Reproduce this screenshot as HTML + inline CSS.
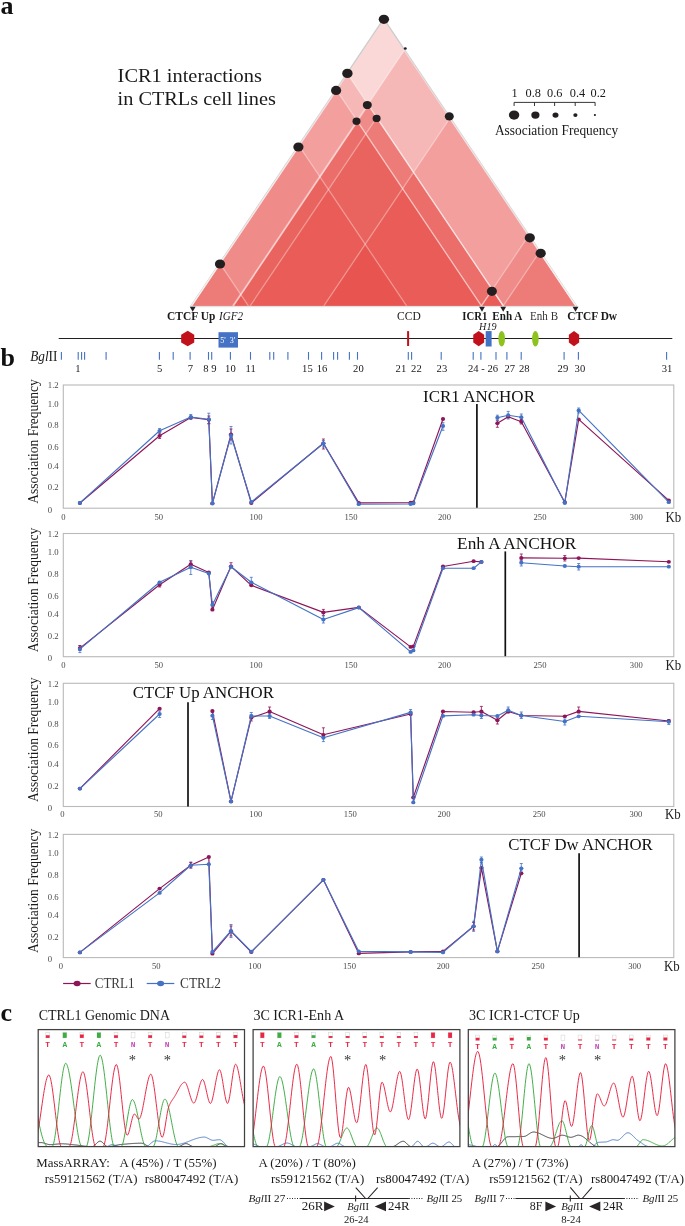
<!DOCTYPE html>
<html><head><meta charset="utf-8"><title>Figure</title>
<style>
html,body{margin:0;padding:0;background:#fff;}
body{width:685px;height:1226px;overflow:hidden;font-family:"Liberation Serif",serif;}
svg{display:block;will-change:transform;}
svg text{font-family:"Liberation Serif",serif;}
</style></head><body>
<svg width="685" height="1226" viewBox="0 0 685 1226">
<rect width="685" height="1226" fill="#fff"/>
<text x="0.40" y="13.60" font-size="26" font-weight="bold" fill="#111">a</text>
<text x="0.60" y="366.00" font-size="26" font-weight="bold" fill="#111">b</text>
<text x="0.40" y="1020.70" font-size="26" font-weight="bold" fill="#111">c</text>
<text x="117.60" y="81.50" font-size="19.3" fill="#1a1a1a" textLength="144.30" lengthAdjust="spacingAndGlyphs">ICR1 interactions</text>
<text x="117.60" y="104.90" font-size="19.3" fill="#1a1a1a" textLength="158.20" lengthAdjust="spacingAndGlyphs">in CTRLs cell lines</text>
<path d="M190.00,306.20 L383.70,17.56 L577.40,306.20 Z" fill="#cdcdcd"/>
<path d="M191.60,305.90 L383.70,19.96 L575.80,305.90 Z" fill="#fff"/>
<g>
<path d="M191.60,305.90 L383.70,19.96 L575.80,305.90 Z" fill="rgb(230,60,56)" fill-opacity="0.2"/>
<path d="M232.60,305.90 L404.20,50.47 L575.80,305.90 Z" fill="rgb(230,60,56)" fill-opacity="0.2"/>
<path d="M191.60,305.90 L347.45,73.92 L503.30,305.90 Z" fill="rgb(230,60,56)" fill-opacity="0.2"/>
<path d="M191.60,305.90 L336.50,90.22 L481.40,305.90 Z" fill="rgb(230,60,56)" fill-opacity="0.2"/>
<path d="M233.40,305.90 L368.35,105.03 L503.30,305.90 Z" fill="rgb(230,60,56)" fill-opacity="0.2"/>
<path d="M233.40,305.90 L357.40,121.33 L481.40,305.90 Z" fill="rgb(230,60,56)" fill-opacity="0.2"/>
<path d="M250.20,305.90 L376.75,117.53 L503.30,305.90 Z" fill="rgb(230,60,56)" fill-opacity="0.2"/>
<path d="M323.80,305.90 L449.80,118.35 L575.80,305.90 Z" fill="rgb(230,60,56)" fill-opacity="0.2"/>
<path d="M191.60,305.90 L299.10,145.89 L406.60,305.90 Z" fill="rgb(230,60,56)" fill-opacity="0.2"/>
<path d="M191.60,305.90 L220.00,263.63 L248.40,305.90 Z" fill="rgb(230,60,56)" fill-opacity="0.2"/>
<path d="M481.40,305.90 L528.60,235.64 L575.80,305.90 Z" fill="rgb(230,60,56)" fill-opacity="0.2"/>
<path d="M503.30,305.90 L539.55,251.94 L575.80,305.90 Z" fill="rgb(230,60,56)" fill-opacity="0.2"/>
<path d="M481.40,305.90 L492.35,289.60 L503.30,305.90 Z" fill="rgb(230,60,56)" fill-opacity="0.2"/>
</g>
<g fill="none" stroke="#fff" stroke-opacity="0.37" stroke-width="1.25" stroke-linejoin="round">
<path d="M232.60,305.90 L404.20,50.47 L575.80,305.90"/>
<path d="M191.60,305.90 L347.45,73.92 L503.30,305.90"/>
<path d="M191.60,305.90 L336.50,90.22 L481.40,305.90"/>
<path d="M233.40,305.90 L368.35,105.03 L503.30,305.90"/>
<path d="M233.40,305.90 L357.40,121.33 L481.40,305.90"/>
<path d="M250.20,305.90 L376.75,117.53 L503.30,305.90"/>
<path d="M323.80,305.90 L449.80,118.35 L575.80,305.90"/>
<path d="M191.60,305.90 L299.10,145.89 L406.60,305.90"/>
<path d="M191.60,305.90 L220.00,263.63 L248.40,305.90"/>
<path d="M481.40,305.90 L528.60,235.64 L575.80,305.90"/>
<path d="M503.30,305.90 L539.55,251.94 L575.80,305.90"/>
<path d="M481.40,305.90 L492.35,289.60 L503.30,305.90"/>
</g>
<rect x="190.60" y="305.90" width="386.20" height="1.3" fill="#e3e1e1"/>
<g fill="#231f20">
<ellipse cx="383.9" cy="19.3" rx="5.2" ry="4.6"/>
<ellipse cx="405.3" cy="48.5" rx="1.45" ry="1.3"/>
<ellipse cx="347.4" cy="73.4" rx="5.2" ry="4.7"/>
<ellipse cx="336.1" cy="90.4" rx="5.1" ry="4.6"/>
<ellipse cx="367.3" cy="105.0" rx="4.5" ry="4.1"/>
<ellipse cx="356.5" cy="121.3" rx="4.0" ry="3.7"/>
<ellipse cx="376.6" cy="118.4" rx="4.0" ry="3.7"/>
<ellipse cx="449.3" cy="116.4" rx="4.5" ry="4.1"/>
<ellipse cx="298.4" cy="147.0" rx="5.1" ry="4.6"/>
<ellipse cx="220.0" cy="264.0" rx="5.1" ry="4.6"/>
<ellipse cx="529.8" cy="237.8" rx="5.1" ry="4.6"/>
<ellipse cx="540.7" cy="253.3" rx="5.1" ry="4.6"/>
<ellipse cx="491.9" cy="291.3" rx="5.0" ry="4.6"/>
</g>
<text x="514.60" y="96.90" font-size="12.3" text-anchor="middle" fill="#1a1a1a">1</text>
<text x="533.30" y="96.90" font-size="12.3" text-anchor="middle" fill="#1a1a1a">0.8</text>
<text x="554.70" y="96.90" font-size="12.3" text-anchor="middle" fill="#1a1a1a">0.6</text>
<text x="577.50" y="96.90" font-size="12.3" text-anchor="middle" fill="#1a1a1a">0.4</text>
<text x="598.30" y="96.90" font-size="12.3" text-anchor="middle" fill="#1a1a1a">0.2</text>
<path d="M514.1,106 V102.4 H595.1 V106 M534.5,102.4 V106 M554.6,102.4 V106 M575.2,102.4 V106" fill="none" stroke="#231f20" stroke-width="0.9"/>
<g fill="#231f20">
<ellipse cx="514.1" cy="115.1" rx="5.2" ry="4.6"/>
<ellipse cx="535.4" cy="115.1" rx="4.1" ry="3.7"/>
<ellipse cx="555.5" cy="115.1" rx="3.0" ry="2.7"/>
<ellipse cx="575.4" cy="115.1" rx="2.1" ry="1.9"/>
<ellipse cx="594.9" cy="115.1" rx="1.1" ry="1.0"/>
</g>
<text x="494.90" y="135.20" font-size="13.9" fill="#1a1a1a" textLength="123.20" lengthAdjust="spacingAndGlyphs">Association Frequency</text>
<g fill="#231f20">
<path d="M189.80,306.7 H195.60 L192.70,311.8 Z"/>
<path d="M479.10,306.7 H484.90 L482.00,311.8 Z"/>
<path d="M500.30,306.7 H506.10 L503.20,311.8 Z"/>
<path d="M572.60,306.7 H578.40 L575.50,311.8 Z"/>
</g>
<text x="167.10" y="320.20" font-size="11.8" font-weight="bold" fill="#1a1a1a" textLength="48.20" lengthAdjust="spacingAndGlyphs">CTCF Up</text>
<text x="219.00" y="320.20" font-size="11.8" font-style="italic" fill="#1a1a1a" textLength="24.00" lengthAdjust="spacingAndGlyphs">IGF2</text>
<text x="397.10" y="320.20" font-size="11.8" fill="#1a1a1a" textLength="23.70" lengthAdjust="spacingAndGlyphs">CCD</text>
<text x="462.30" y="320.20" font-size="11.8" font-weight="bold" fill="#1a1a1a" textLength="25.10" lengthAdjust="spacingAndGlyphs">ICR1</text>
<text x="492.30" y="320.20" font-size="11.8" font-weight="bold" fill="#1a1a1a" textLength="30.00" lengthAdjust="spacingAndGlyphs">Enh A</text>
<text x="530.10" y="320.20" font-size="11.8" fill="#333" textLength="27.90" lengthAdjust="spacingAndGlyphs">Enh B</text>
<text x="567.20" y="320.20" font-size="11.8" font-weight="bold" fill="#1a1a1a" textLength="49.90" lengthAdjust="spacingAndGlyphs">CTCF Dw</text>
<text x="479.10" y="330.00" font-size="10.8" font-style="italic" fill="#1a1a1a" textLength="17.50" lengthAdjust="spacingAndGlyphs">H19</text>
<line x1="58.7" y1="338.5" x2="672.3" y2="338.5" stroke="#231f20" stroke-width="1.1"/>
<path d="M187.70,330.85 L194.25,334.73 L194.25,342.48 L187.70,346.35 L181.15,342.48 L181.15,334.73 Z" fill="#c1121c"/>
<path d="M478.70,331.00 L484.15,334.80 L484.15,342.40 L478.70,346.20 L473.25,342.40 L473.25,334.80 Z" fill="#c1121c"/>
<path d="M574.00,331.00 L579.15,334.80 L579.15,342.40 L574.00,346.20 L568.85,342.40 L568.85,334.80 Z" fill="#c1121c"/>
<rect x="218.5" y="332.2" width="19.5" height="15.4" fill="#4472c4"/>
<text x="220.30" y="342.60" font-size="8" fill="#fff">5'</text>
<text x="229.80" y="342.60" font-size="8" fill="#fff">3'</text>
<rect x="407.1" y="331.1" width="2" height="14.9" fill="#c1121c"/>
<rect x="485.7" y="331.1" width="5.9" height="15.4" fill="#4472c4"/>
<ellipse cx="501.7" cy="338.7" rx="3.3" ry="7.7" fill="#8dc21f"/>
<ellipse cx="535.4" cy="338.7" rx="3.3" ry="7.7" fill="#8dc21f"/>
<text x="30.20" y="360.90" font-size="14" fill="#1a1a1a" textLength="27.20" lengthAdjust="spacingAndGlyphs"><tspan font-style="italic">Bgl</tspan>II</text>
<path d="M61.40,352 V359.8 M78.20,352 V359.8 M81.60,352 V359.8 M84.60,352 V359.8 M106.10,352 V359.8 M159.40,352 V359.8 M173.20,352 V359.8 M190.10,352 V359.8 M208.50,352 V359.8 M211.70,352 V359.8 M230.40,352 V359.8 M250.50,352 V359.8 M269.80,352 V359.8 M273.70,352 V359.8 M287.90,352 V359.8 M308.50,352 V359.8 M321.60,352 V359.8 M333.60,352 V359.8 M337.60,352 V359.8 M349.40,352 V359.8 M357.50,352 V359.8 M408.30,352 V359.8 M411.60,352 V359.8 M441.20,352 V359.8 M473.20,352 V359.8 M480.90,352 V359.8 M496.00,352 V359.8 M506.90,352 V359.8 M521.20,352 V359.8 M564.10,352 V359.8 M578.40,352 V359.8 M666.60,352 V359.8" stroke="#4472c4" stroke-width="1.1" fill="none"/>
<text x="77.90" y="371.90" font-size="10.6" text-anchor="middle" fill="#1a1a1a">1</text>
<text x="159.60" y="371.90" font-size="10.6" text-anchor="middle" fill="#1a1a1a">5</text>
<text x="190.30" y="371.90" font-size="10.6" text-anchor="middle" fill="#1a1a1a">7</text>
<text x="205.80" y="371.90" font-size="10.6" text-anchor="middle" fill="#1a1a1a">8</text>
<text x="213.90" y="371.90" font-size="10.6" text-anchor="middle" fill="#1a1a1a">9</text>
<text x="230.40" y="371.90" font-size="10.6" text-anchor="middle" fill="#1a1a1a">10</text>
<text x="250.70" y="371.90" font-size="10.6" text-anchor="middle" fill="#1a1a1a">11</text>
<text x="307.40" y="371.90" font-size="10.6" text-anchor="middle" fill="#1a1a1a">15</text>
<text x="322.00" y="371.90" font-size="10.6" text-anchor="middle" fill="#1a1a1a">16</text>
<text x="358.40" y="371.90" font-size="10.6" text-anchor="middle" fill="#1a1a1a">20</text>
<text x="400.90" y="371.90" font-size="10.6" text-anchor="middle" fill="#1a1a1a">21</text>
<text x="416.40" y="371.90" font-size="10.6" text-anchor="middle" fill="#1a1a1a">22</text>
<text x="441.90" y="371.90" font-size="10.6" text-anchor="middle" fill="#1a1a1a">23</text>
<text x="483.00" y="371.90" font-size="10.6" text-anchor="middle" fill="#1a1a1a">24 - 26</text>
<text x="509.80" y="371.90" font-size="10.6" text-anchor="middle" fill="#1a1a1a">27</text>
<text x="524.20" y="371.90" font-size="10.6" text-anchor="middle" fill="#1a1a1a">28</text>
<text x="562.90" y="371.90" font-size="10.6" text-anchor="middle" fill="#1a1a1a">29</text>
<text x="579.90" y="371.90" font-size="10.6" text-anchor="middle" fill="#1a1a1a">30</text>
<text x="667.00" y="371.90" font-size="10.6" text-anchor="middle" fill="#1a1a1a">31</text>
<rect x="63.3" y="385.0" width="610.5" height="123.2" fill="#fff" stroke="#b9b9b9" stroke-width="1.1"/>
<text x="47.80" y="388.30" font-size="8.7" fill="#4a4a4a">1.2</text>
<text x="47.80" y="406.90" font-size="8.7" fill="#4a4a4a">1.0</text>
<text x="47.80" y="428.30" font-size="8.7" fill="#4a4a4a">0.8</text>
<text x="47.80" y="450.10" font-size="8.7" fill="#4a4a4a">0.6</text>
<text x="47.80" y="468.80" font-size="8.7" fill="#4a4a4a">0.4</text>
<text x="47.80" y="490.40" font-size="8.7" fill="#4a4a4a">0.2</text>
<text x="47.80" y="512.50" font-size="8.7" fill="#4a4a4a">0</text>
<text x="63.30" y="519.90" font-size="8.6" text-anchor="middle" fill="#4a4a4a">0</text>
<text x="158.80" y="519.90" font-size="8.6" text-anchor="middle" fill="#4a4a4a">50</text>
<text x="256.00" y="519.90" font-size="8.6" text-anchor="middle" fill="#4a4a4a">100</text>
<text x="351.00" y="519.90" font-size="8.6" text-anchor="middle" fill="#4a4a4a">150</text>
<text x="444.50" y="519.90" font-size="8.6" text-anchor="middle" fill="#4a4a4a">200</text>
<text x="540.00" y="519.90" font-size="8.6" text-anchor="middle" fill="#4a4a4a">250</text>
<text x="636.30" y="519.90" font-size="8.6" text-anchor="middle" fill="#4a4a4a">300</text>
<text transform="translate(38.2,503.7) rotate(-90)" font-size="14.6" fill="#1a1a1a" textLength="124.5" lengthAdjust="spacingAndGlyphs">Association Frequency</text>
<text x="665.60" y="521.50" font-size="14" fill="#222" textLength="15.70" lengthAdjust="spacingAndGlyphs">Kb</text>
<text x="423.00" y="402.00" font-size="17.5" fill="#111" textLength="112.00" lengthAdjust="spacingAndGlyphs">ICR1 ANCHOR</text>
<line x1="476.9" y1="403.9" x2="476.9" y2="507.7" stroke="#111" stroke-width="1.7"/>
<path d="M208.8,413.2 V424.0 M207.3,413.2 h3 M207.3,424.0 h3" stroke="#4472c4" stroke-width="0.8" fill="none"/>
<path d="M208.8,416.0 V423.5 M207.3,416.0 h3 M207.3,423.5 h3" stroke="#8e1558" stroke-width="0.8" fill="none"/>
<path d="M231.0,426.5 V444.0 M229.5,426.5 h3 M229.5,444.0 h3" stroke="#4472c4" stroke-width="0.8" fill="none"/>
<path d="M231.0,429.0 V440.0 M229.5,429.0 h3 M229.5,440.0 h3" stroke="#8e1558" stroke-width="0.8" fill="none"/>
<path d="M159.6,433.0 V438.5 M158.1,433.0 h3 M158.1,438.5 h3" stroke="#8e1558" stroke-width="0.8" fill="none"/>
<path d="M159.6,428.5 V433.0 M158.1,428.5 h3 M158.1,433.0 h3" stroke="#4472c4" stroke-width="0.8" fill="none"/>
<path d="M323.4,439.0 V449.0 M321.9,439.0 h3 M321.9,449.0 h3" stroke="#8e1558" stroke-width="0.8" fill="none"/>
<path d="M323.4,440.5 V447.0 M321.9,440.5 h3 M321.9,447.0 h3" stroke="#4472c4" stroke-width="0.8" fill="none"/>
<path d="M443.0,422.7 V430.3 M441.5,422.7 h3 M441.5,430.3 h3" stroke="#4472c4" stroke-width="0.8" fill="none"/>
<path d="M497.4,420.2 V427.3 M495.9,420.2 h3 M495.9,427.3 h3" stroke="#8e1558" stroke-width="0.8" fill="none"/>
<path d="M497.4,415.2 V420.2 M495.9,415.2 h3 M495.9,420.2 h3" stroke="#4472c4" stroke-width="0.8" fill="none"/>
<path d="M508.2,411.4 V419.0 M506.7,411.4 h3 M506.7,419.0 h3" stroke="#4472c4" stroke-width="0.8" fill="none"/>
<path d="M521.3,414.0 V420.2 M519.8,414.0 h3 M519.8,420.2 h3" stroke="#4472c4" stroke-width="0.8" fill="none"/>
<path d="M521.3,419.5 V424.0 M519.8,419.5 h3 M519.8,424.0 h3" stroke="#8e1558" stroke-width="0.8" fill="none"/>
<path d="M190.8,414.5 V419.5 M189.3,414.5 h3 M189.3,419.5 h3" stroke="#4472c4" stroke-width="0.8" fill="none"/>
<path d="M578.7,408.0 V413.0 M577.2,408.0 h3 M577.2,413.0 h3" stroke="#4472c4" stroke-width="0.8" fill="none"/>
<path d="M79.9,503.0 L159.6,435.8 L190.8,417.5 L208.8,419.8 L212.4,503.4 L231.0,434.3 L251.3,503.0 L323.4,443.3 L358.8,502.9 L410.6,502.7 L413.3,502.4 L443.0,419.0" fill="none" stroke="#8e1558" stroke-width="1.15" stroke-linejoin="round"/>
<path d="M497.4,423.2 L508.2,416.7 L521.3,421.7 L564.8,502.2 L578.7,419.4 L668.8,500.4" fill="none" stroke="#8e1558" stroke-width="1.15" stroke-linejoin="round"/>
<g fill="#8e1558">
<ellipse cx="79.9" cy="503.0" rx="2.1" ry="1.9"/>
<ellipse cx="159.6" cy="435.8" rx="2.1" ry="1.9"/>
<ellipse cx="190.8" cy="417.5" rx="2.1" ry="1.9"/>
<ellipse cx="208.8" cy="419.8" rx="2.1" ry="1.9"/>
<ellipse cx="212.4" cy="503.4" rx="2.1" ry="1.9"/>
<ellipse cx="231.0" cy="434.3" rx="2.1" ry="1.9"/>
<ellipse cx="251.3" cy="503.0" rx="2.1" ry="1.9"/>
<ellipse cx="323.4" cy="443.3" rx="2.1" ry="1.9"/>
<ellipse cx="358.8" cy="502.9" rx="2.1" ry="1.9"/>
<ellipse cx="410.6" cy="502.7" rx="2.1" ry="1.9"/>
<ellipse cx="413.3" cy="502.4" rx="2.1" ry="1.9"/>
<ellipse cx="443.0" cy="419.0" rx="2.1" ry="1.9"/>
<ellipse cx="497.4" cy="423.2" rx="2.1" ry="1.9"/>
<ellipse cx="508.2" cy="416.7" rx="2.1" ry="1.9"/>
<ellipse cx="521.3" cy="421.7" rx="2.1" ry="1.9"/>
<ellipse cx="564.8" cy="502.2" rx="2.1" ry="1.9"/>
<ellipse cx="578.7" cy="419.4" rx="2.1" ry="1.9"/>
<ellipse cx="668.8" cy="500.4" rx="2.1" ry="1.9"/>
</g>
<path d="M79.9,502.9 L159.6,430.8 L190.8,417.0 L208.8,419.2 L212.4,503.4 L231.0,435.5 L251.3,502.0 L323.4,443.5 L358.8,504.2 L410.6,504.0 L413.3,503.4 L443.0,426.0" fill="none" stroke="#4472c4" stroke-width="1.15" stroke-linejoin="round"/>
<path d="M497.4,417.7 L508.2,415.2 L521.3,417.2 L564.8,503.0 L578.7,410.4 L668.8,502.2" fill="none" stroke="#4472c4" stroke-width="1.15" stroke-linejoin="round"/>
<g fill="#4472c4">
<ellipse cx="79.9" cy="502.9" rx="2.1" ry="1.9"/>
<ellipse cx="159.6" cy="430.8" rx="2.1" ry="1.9"/>
<ellipse cx="190.8" cy="417.0" rx="2.1" ry="1.9"/>
<ellipse cx="208.8" cy="419.2" rx="2.1" ry="1.9"/>
<ellipse cx="212.4" cy="503.4" rx="2.1" ry="1.9"/>
<ellipse cx="231.0" cy="435.5" rx="2.1" ry="1.9"/>
<ellipse cx="251.3" cy="502.0" rx="2.1" ry="1.9"/>
<ellipse cx="323.4" cy="443.5" rx="2.1" ry="1.9"/>
<ellipse cx="358.8" cy="504.2" rx="2.1" ry="1.9"/>
<ellipse cx="410.6" cy="504.0" rx="2.1" ry="1.9"/>
<ellipse cx="413.3" cy="503.4" rx="2.1" ry="1.9"/>
<ellipse cx="443.0" cy="426.0" rx="2.1" ry="1.9"/>
<ellipse cx="497.4" cy="417.7" rx="2.1" ry="1.9"/>
<ellipse cx="508.2" cy="415.2" rx="2.1" ry="1.9"/>
<ellipse cx="521.3" cy="417.2" rx="2.1" ry="1.9"/>
<ellipse cx="564.8" cy="503.0" rx="2.1" ry="1.9"/>
<ellipse cx="578.7" cy="410.4" rx="2.1" ry="1.9"/>
<ellipse cx="668.8" cy="502.2" rx="2.1" ry="1.9"/>
</g>
<rect x="63.3" y="533.5" width="610.5" height="123.2" fill="#fff" stroke="#b9b9b9" stroke-width="1.1"/>
<text x="47.80" y="536.80" font-size="8.7" fill="#4a4a4a">1.2</text>
<text x="47.80" y="555.40" font-size="8.7" fill="#4a4a4a">1.0</text>
<text x="47.80" y="576.80" font-size="8.7" fill="#4a4a4a">0.8</text>
<text x="47.80" y="598.60" font-size="8.7" fill="#4a4a4a">0.6</text>
<text x="47.80" y="617.30" font-size="8.7" fill="#4a4a4a">0.4</text>
<text x="47.80" y="638.90" font-size="8.7" fill="#4a4a4a">0.2</text>
<text x="47.80" y="661.00" font-size="8.7" fill="#4a4a4a">0</text>
<text x="63.30" y="667.90" font-size="8.6" text-anchor="middle" fill="#4a4a4a">0</text>
<text x="158.80" y="667.90" font-size="8.6" text-anchor="middle" fill="#4a4a4a">50</text>
<text x="256.00" y="667.90" font-size="8.6" text-anchor="middle" fill="#4a4a4a">100</text>
<text x="351.00" y="667.90" font-size="8.6" text-anchor="middle" fill="#4a4a4a">150</text>
<text x="444.50" y="667.90" font-size="8.6" text-anchor="middle" fill="#4a4a4a">200</text>
<text x="540.00" y="667.90" font-size="8.6" text-anchor="middle" fill="#4a4a4a">250</text>
<text x="636.30" y="667.90" font-size="8.6" text-anchor="middle" fill="#4a4a4a">300</text>
<text transform="translate(38.2,652.2) rotate(-90)" font-size="14.6" fill="#1a1a1a" textLength="124.5" lengthAdjust="spacingAndGlyphs">Association Frequency</text>
<text x="665.60" y="670.00" font-size="14" fill="#222" textLength="15.70" lengthAdjust="spacingAndGlyphs">Kb</text>
<text x="457.10" y="548.90" font-size="17.5" fill="#111" textLength="119.30" lengthAdjust="spacingAndGlyphs">Enh A ANCHOR</text>
<line x1="505.3" y1="551.4" x2="505.3" y2="656.2" stroke="#111" stroke-width="1.7"/>
<path d="M79.9,645.6 V652.6 M78.4,645.6 h3 M78.4,652.6 h3" stroke="#4472c4" stroke-width="0.8" fill="none"/>
<path d="M79.9,645.5 V650.5 M78.4,645.5 h3 M78.4,650.5 h3" stroke="#8e1558" stroke-width="0.8" fill="none"/>
<path d="M190.8,560.7 V574.5 M189.3,560.7 h3 M189.3,574.5 h3" stroke="#4472c4" stroke-width="0.8" fill="none"/>
<path d="M190.8,561.0 V567.0 M189.3,561.0 h3 M189.3,567.0 h3" stroke="#8e1558" stroke-width="0.8" fill="none"/>
<path d="M231.0,562.7 V568.0 M229.5,562.7 h3 M229.5,568.0 h3" stroke="#8e1558" stroke-width="0.8" fill="none"/>
<path d="M251.3,577.3 V585.0 M249.8,577.3 h3 M249.8,585.0 h3" stroke="#4472c4" stroke-width="0.8" fill="none"/>
<path d="M323.4,609.4 V615.4 M321.9,609.4 h3 M321.9,615.4 h3" stroke="#8e1558" stroke-width="0.8" fill="none"/>
<path d="M323.4,616.0 V623.0 M321.9,616.0 h3 M321.9,623.0 h3" stroke="#4472c4" stroke-width="0.8" fill="none"/>
<path d="M521.3,554.0 V561.0 M519.8,554.0 h3 M519.8,561.0 h3" stroke="#8e1558" stroke-width="0.8" fill="none"/>
<path d="M521.3,560.0 V566.0 M519.8,560.0 h3 M519.8,566.0 h3" stroke="#4472c4" stroke-width="0.8" fill="none"/>
<path d="M564.8,555.5 V561.0 M563.3,555.5 h3 M563.3,561.0 h3" stroke="#8e1558" stroke-width="0.8" fill="none"/>
<path d="M578.7,563.5 V570.0 M577.2,563.5 h3 M577.2,570.0 h3" stroke="#4472c4" stroke-width="0.8" fill="none"/>
<path d="M212.4,601.5 V608.0 M210.9,601.5 h3 M210.9,608.0 h3" stroke="#4472c4" stroke-width="0.8" fill="none"/>
<path d="M159.6,582.5 V587.0 M158.1,582.5 h3 M158.1,587.0 h3" stroke="#8e1558" stroke-width="0.8" fill="none"/>
<path d="M79.9,648.1 L159.6,584.8 L190.8,564.2 L208.8,572.5 L212.4,609.7 L231.0,566.3 L251.3,585.3 L323.4,612.4 L358.8,607.4 L410.6,646.9 L413.3,646.4 L443.0,566.5 L473.6,561.2 L481.4,561.9" fill="none" stroke="#8e1558" stroke-width="1.15" stroke-linejoin="round"/>
<path d="M521.3,557.9 L564.8,558.3 L578.7,558.1 L668.8,561.8" fill="none" stroke="#8e1558" stroke-width="1.15" stroke-linejoin="round"/>
<g fill="#8e1558">
<ellipse cx="79.9" cy="648.1" rx="2.1" ry="1.9"/>
<ellipse cx="159.6" cy="584.8" rx="2.1" ry="1.9"/>
<ellipse cx="190.8" cy="564.2" rx="2.1" ry="1.9"/>
<ellipse cx="208.8" cy="572.5" rx="2.1" ry="1.9"/>
<ellipse cx="212.4" cy="609.7" rx="2.1" ry="1.9"/>
<ellipse cx="231.0" cy="566.3" rx="2.1" ry="1.9"/>
<ellipse cx="251.3" cy="585.3" rx="2.1" ry="1.9"/>
<ellipse cx="323.4" cy="612.4" rx="2.1" ry="1.9"/>
<ellipse cx="358.8" cy="607.4" rx="2.1" ry="1.9"/>
<ellipse cx="410.6" cy="646.9" rx="2.1" ry="1.9"/>
<ellipse cx="413.3" cy="646.4" rx="2.1" ry="1.9"/>
<ellipse cx="443.0" cy="566.5" rx="2.1" ry="1.9"/>
<ellipse cx="473.6" cy="561.2" rx="2.1" ry="1.9"/>
<ellipse cx="481.4" cy="561.9" rx="2.1" ry="1.9"/>
<ellipse cx="521.3" cy="557.9" rx="2.1" ry="1.9"/>
<ellipse cx="564.8" cy="558.3" rx="2.1" ry="1.9"/>
<ellipse cx="578.7" cy="558.1" rx="2.1" ry="1.9"/>
<ellipse cx="668.8" cy="561.8" rx="2.1" ry="1.9"/>
</g>
<path d="M79.9,649.1 L159.6,582.3 L190.8,567.2 L208.8,573.5 L212.4,604.9 L231.0,566.7 L251.3,582.3 L323.4,619.5 L358.8,607.6 L410.6,651.9 L413.3,650.4 L443.0,568.2 L473.6,568.2 L481.4,561.9" fill="none" stroke="#4472c4" stroke-width="1.15" stroke-linejoin="round"/>
<path d="M521.3,562.7 L564.8,566.0 L578.7,566.7 L668.8,566.7" fill="none" stroke="#4472c4" stroke-width="1.15" stroke-linejoin="round"/>
<g fill="#4472c4">
<ellipse cx="79.9" cy="649.1" rx="2.1" ry="1.9"/>
<ellipse cx="159.6" cy="582.3" rx="2.1" ry="1.9"/>
<ellipse cx="190.8" cy="567.2" rx="2.1" ry="1.9"/>
<ellipse cx="208.8" cy="573.5" rx="2.1" ry="1.9"/>
<ellipse cx="212.4" cy="604.9" rx="2.1" ry="1.9"/>
<ellipse cx="231.0" cy="566.7" rx="2.1" ry="1.9"/>
<ellipse cx="251.3" cy="582.3" rx="2.1" ry="1.9"/>
<ellipse cx="323.4" cy="619.5" rx="2.1" ry="1.9"/>
<ellipse cx="358.8" cy="607.6" rx="2.1" ry="1.9"/>
<ellipse cx="410.6" cy="651.9" rx="2.1" ry="1.9"/>
<ellipse cx="413.3" cy="650.4" rx="2.1" ry="1.9"/>
<ellipse cx="443.0" cy="568.2" rx="2.1" ry="1.9"/>
<ellipse cx="473.6" cy="568.2" rx="2.1" ry="1.9"/>
<ellipse cx="481.4" cy="561.9" rx="2.1" ry="1.9"/>
<ellipse cx="521.3" cy="562.7" rx="2.1" ry="1.9"/>
<ellipse cx="564.8" cy="566.0" rx="2.1" ry="1.9"/>
<ellipse cx="578.7" cy="566.7" rx="2.1" ry="1.9"/>
<ellipse cx="668.8" cy="566.7" rx="2.1" ry="1.9"/>
</g>
<rect x="63.3" y="683.3" width="610.5" height="123.2" fill="#fff" stroke="#b9b9b9" stroke-width="1.1"/>
<text x="47.80" y="686.60" font-size="8.7" fill="#4a4a4a">1.2</text>
<text x="47.80" y="705.20" font-size="8.7" fill="#4a4a4a">1.0</text>
<text x="47.80" y="726.60" font-size="8.7" fill="#4a4a4a">0.8</text>
<text x="47.80" y="748.40" font-size="8.7" fill="#4a4a4a">0.6</text>
<text x="47.80" y="767.10" font-size="8.7" fill="#4a4a4a">0.4</text>
<text x="47.80" y="788.70" font-size="8.7" fill="#4a4a4a">0.2</text>
<text x="47.80" y="810.80" font-size="8.7" fill="#4a4a4a">0</text>
<text x="62.30" y="816.90" font-size="8.6" text-anchor="middle" fill="#4a4a4a">0</text>
<text x="158.20" y="816.90" font-size="8.6" text-anchor="middle" fill="#4a4a4a">50</text>
<text x="255.80" y="816.90" font-size="8.6" text-anchor="middle" fill="#4a4a4a">100</text>
<text x="350.30" y="816.90" font-size="8.6" text-anchor="middle" fill="#4a4a4a">150</text>
<text x="444.00" y="816.90" font-size="8.6" text-anchor="middle" fill="#4a4a4a">200</text>
<text x="539.20" y="816.90" font-size="8.6" text-anchor="middle" fill="#4a4a4a">250</text>
<text x="635.90" y="816.90" font-size="8.6" text-anchor="middle" fill="#4a4a4a">300</text>
<text transform="translate(38.2,802.0) rotate(-90)" font-size="14.6" fill="#1a1a1a" textLength="124.5" lengthAdjust="spacingAndGlyphs">Association Frequency</text>
<text x="664.90" y="818.80" font-size="14" fill="#222" textLength="15.70" lengthAdjust="spacingAndGlyphs">Kb</text>
<text x="132.70" y="697.60" font-size="17.5" fill="#111" textLength="141.20" lengthAdjust="spacingAndGlyphs">CTCF Up ANCHOR</text>
<line x1="188.0" y1="702.2" x2="188.0" y2="806.4" stroke="#111" stroke-width="1.7"/>
<path d="M159.6,711.0 V717.5 M158.1,711.0 h3 M158.1,717.5 h3" stroke="#4472c4" stroke-width="0.8" fill="none"/>
<path d="M212.4,712.5 V719.5 M210.9,712.5 h3 M210.9,719.5 h3" stroke="#4472c4" stroke-width="0.8" fill="none"/>
<path d="M251.3,715.0 V721.0 M249.8,715.0 h3 M249.8,721.0 h3" stroke="#8e1558" stroke-width="0.8" fill="none"/>
<path d="M251.3,712.5 V718.0 M249.8,712.5 h3 M249.8,718.0 h3" stroke="#4472c4" stroke-width="0.8" fill="none"/>
<path d="M269.6,707.0 V713.0 M268.1,707.0 h3 M268.1,713.0 h3" stroke="#8e1558" stroke-width="0.8" fill="none"/>
<path d="M269.6,713.0 V718.5 M268.1,713.0 h3 M268.1,718.5 h3" stroke="#4472c4" stroke-width="0.8" fill="none"/>
<path d="M323.4,727.8 V736.0 M321.9,727.8 h3 M321.9,736.0 h3" stroke="#8e1558" stroke-width="0.8" fill="none"/>
<path d="M323.4,736.0 V741.6 M321.9,736.0 h3 M321.9,741.6 h3" stroke="#4472c4" stroke-width="0.8" fill="none"/>
<path d="M481.4,706.4 V713.0 M479.9,706.4 h3 M479.9,713.0 h3" stroke="#8e1558" stroke-width="0.8" fill="none"/>
<path d="M481.4,712.0 V718.5 M479.9,712.0 h3 M479.9,718.5 h3" stroke="#4472c4" stroke-width="0.8" fill="none"/>
<path d="M497.4,718.0 V724.0 M495.9,718.0 h3 M495.9,724.0 h3" stroke="#8e1558" stroke-width="0.8" fill="none"/>
<path d="M508.2,707.0 V713.0 M506.7,707.0 h3 M506.7,713.0 h3" stroke="#4472c4" stroke-width="0.8" fill="none"/>
<path d="M521.3,712.0 V718.5 M519.8,712.0 h3 M519.8,718.5 h3" stroke="#4472c4" stroke-width="0.8" fill="none"/>
<path d="M564.8,719.0 V725.0 M563.3,719.0 h3 M563.3,725.0 h3" stroke="#4472c4" stroke-width="0.8" fill="none"/>
<path d="M578.7,707.0 V713.0 M577.2,707.0 h3 M577.2,713.0 h3" stroke="#8e1558" stroke-width="0.8" fill="none"/>
<path d="M410.6,709.5 V715.0 M409.1,709.5 h3 M409.1,715.0 h3" stroke="#4472c4" stroke-width="0.8" fill="none"/>
<path d="M668.8,719.5 V724.5 M667.3,719.5 h3 M667.3,724.5 h3" stroke="#4472c4" stroke-width="0.8" fill="none"/>
<path d="M79.9,788.6 L159.6,708.7" fill="none" stroke="#8e1558" stroke-width="1.15" stroke-linejoin="round"/>
<path d="M212.4,711.0 L231.0,801.4 L251.3,717.7 L269.6,711.5 L323.4,734.8 L410.6,714.0 L413.3,797.4 L443.0,711.5 L473.6,712.2 L481.4,711.5 L497.4,720.3 L508.2,711.5 L521.3,715.5 L564.8,716.3 L578.7,711.4 L668.8,721.0" fill="none" stroke="#8e1558" stroke-width="1.15" stroke-linejoin="round"/>
<g fill="#8e1558">
<ellipse cx="79.9" cy="788.6" rx="2.1" ry="1.9"/>
<ellipse cx="159.6" cy="708.7" rx="2.1" ry="1.9"/>
<ellipse cx="212.4" cy="711.0" rx="2.1" ry="1.9"/>
<ellipse cx="231.0" cy="801.4" rx="2.1" ry="1.9"/>
<ellipse cx="251.3" cy="717.7" rx="2.1" ry="1.9"/>
<ellipse cx="269.6" cy="711.5" rx="2.1" ry="1.9"/>
<ellipse cx="323.4" cy="734.8" rx="2.1" ry="1.9"/>
<ellipse cx="410.6" cy="714.0" rx="2.1" ry="1.9"/>
<ellipse cx="413.3" cy="797.4" rx="2.1" ry="1.9"/>
<ellipse cx="443.0" cy="711.5" rx="2.1" ry="1.9"/>
<ellipse cx="473.6" cy="712.2" rx="2.1" ry="1.9"/>
<ellipse cx="481.4" cy="711.5" rx="2.1" ry="1.9"/>
<ellipse cx="497.4" cy="720.3" rx="2.1" ry="1.9"/>
<ellipse cx="508.2" cy="711.5" rx="2.1" ry="1.9"/>
<ellipse cx="521.3" cy="715.5" rx="2.1" ry="1.9"/>
<ellipse cx="564.8" cy="716.3" rx="2.1" ry="1.9"/>
<ellipse cx="578.7" cy="711.4" rx="2.1" ry="1.9"/>
<ellipse cx="668.8" cy="721.0" rx="2.1" ry="1.9"/>
</g>
<path d="M79.9,788.6 L159.6,714.0" fill="none" stroke="#4472c4" stroke-width="1.15" stroke-linejoin="round"/>
<path d="M212.4,715.7 L231.0,801.6 L251.3,716.0 L269.6,716.0 L323.4,737.8 L410.6,712.4 L413.3,802.4 L443.0,715.9 L473.6,714.7 L481.4,715.5 L497.4,716.0 L508.2,710.2 L521.3,715.5 L564.8,721.5 L578.7,716.3 L668.8,721.8" fill="none" stroke="#4472c4" stroke-width="1.15" stroke-linejoin="round"/>
<g fill="#4472c4">
<ellipse cx="79.9" cy="788.6" rx="2.1" ry="1.9"/>
<ellipse cx="159.6" cy="714.0" rx="2.1" ry="1.9"/>
<ellipse cx="212.4" cy="715.7" rx="2.1" ry="1.9"/>
<ellipse cx="231.0" cy="801.6" rx="2.1" ry="1.9"/>
<ellipse cx="251.3" cy="716.0" rx="2.1" ry="1.9"/>
<ellipse cx="269.6" cy="716.0" rx="2.1" ry="1.9"/>
<ellipse cx="323.4" cy="737.8" rx="2.1" ry="1.9"/>
<ellipse cx="410.6" cy="712.4" rx="2.1" ry="1.9"/>
<ellipse cx="413.3" cy="802.4" rx="2.1" ry="1.9"/>
<ellipse cx="443.0" cy="715.9" rx="2.1" ry="1.9"/>
<ellipse cx="473.6" cy="714.7" rx="2.1" ry="1.9"/>
<ellipse cx="481.4" cy="715.5" rx="2.1" ry="1.9"/>
<ellipse cx="497.4" cy="716.0" rx="2.1" ry="1.9"/>
<ellipse cx="508.2" cy="710.2" rx="2.1" ry="1.9"/>
<ellipse cx="521.3" cy="715.5" rx="2.1" ry="1.9"/>
<ellipse cx="564.8" cy="721.5" rx="2.1" ry="1.9"/>
<ellipse cx="578.7" cy="716.3" rx="2.1" ry="1.9"/>
<ellipse cx="668.8" cy="721.8" rx="2.1" ry="1.9"/>
</g>
<rect x="63.3" y="834.4" width="610.5" height="123.2" fill="#fff" stroke="#b9b9b9" stroke-width="1.1"/>
<text x="47.80" y="837.70" font-size="8.7" fill="#4a4a4a">1.2</text>
<text x="47.80" y="856.30" font-size="8.7" fill="#4a4a4a">1.0</text>
<text x="47.80" y="877.70" font-size="8.7" fill="#4a4a4a">0.8</text>
<text x="47.80" y="899.50" font-size="8.7" fill="#4a4a4a">0.6</text>
<text x="47.80" y="918.20" font-size="8.7" fill="#4a4a4a">0.4</text>
<text x="47.80" y="939.80" font-size="8.7" fill="#4a4a4a">0.2</text>
<text x="47.80" y="961.90" font-size="8.7" fill="#4a4a4a">0</text>
<text x="61.00" y="968.70" font-size="8.6" text-anchor="middle" fill="#4a4a4a">0</text>
<text x="156.30" y="968.70" font-size="8.6" text-anchor="middle" fill="#4a4a4a">50</text>
<text x="254.80" y="968.70" font-size="8.6" text-anchor="middle" fill="#4a4a4a">100</text>
<text x="349.50" y="968.70" font-size="8.6" text-anchor="middle" fill="#4a4a4a">150</text>
<text x="443.20" y="968.70" font-size="8.6" text-anchor="middle" fill="#4a4a4a">200</text>
<text x="538.00" y="968.70" font-size="8.6" text-anchor="middle" fill="#4a4a4a">250</text>
<text x="634.60" y="968.70" font-size="8.6" text-anchor="middle" fill="#4a4a4a">300</text>
<text transform="translate(38.2,953.1) rotate(-90)" font-size="14.6" fill="#1a1a1a" textLength="124.5" lengthAdjust="spacingAndGlyphs">Association Frequency</text>
<text x="664.00" y="970.60" font-size="14" fill="#222" textLength="15.70" lengthAdjust="spacingAndGlyphs">Kb</text>
<text x="508.30" y="849.60" font-size="17.5" fill="#111" textLength="144.50" lengthAdjust="spacingAndGlyphs">CTCF Dw ANCHOR</text>
<line x1="579.1" y1="853.2" x2="579.1" y2="957.2" stroke="#111" stroke-width="1.7"/>
<path d="M190.8,862.0 V868.0 M189.3,862.0 h3 M189.3,868.0 h3" stroke="#4472c4" stroke-width="0.8" fill="none"/>
<path d="M190.8,862.5 V868.0 M189.3,862.5 h3 M189.3,868.0 h3" stroke="#8e1558" stroke-width="0.8" fill="none"/>
<path d="M231.0,924.5 V937.6 M229.5,924.5 h3 M229.5,937.6 h3" stroke="#4472c4" stroke-width="0.8" fill="none"/>
<path d="M231.0,926.0 V936.0 M229.5,926.0 h3 M229.5,936.0 h3" stroke="#8e1558" stroke-width="0.8" fill="none"/>
<path d="M473.6,921.3 V931.3 M472.1,921.3 h3 M472.1,931.3 h3" stroke="#4472c4" stroke-width="0.8" fill="none"/>
<path d="M473.6,922.5 V930.0 M472.1,922.5 h3 M472.1,930.0 h3" stroke="#8e1558" stroke-width="0.8" fill="none"/>
<path d="M481.4,857.0 V862.5 M479.9,857.0 h3 M479.9,862.5 h3" stroke="#4472c4" stroke-width="0.8" fill="none"/>
<path d="M521.3,863.5 V871.0 M519.8,863.5 h3 M519.8,871.0 h3" stroke="#4472c4" stroke-width="0.8" fill="none"/>
<path d="M79.9,952.4 L159.6,888.6 L190.8,865.3 L208.8,857.0 L212.4,953.7 L231.0,931.3 L251.3,952.0 L323.4,879.8 L358.8,953.4 L410.6,951.9 L443.0,951.4 L473.6,926.3 L481.4,867.8 L497.4,951.4 L521.3,873.3" fill="none" stroke="#8e1558" stroke-width="1.15" stroke-linejoin="round"/>
<g fill="#8e1558">
<ellipse cx="79.9" cy="952.4" rx="2.1" ry="1.9"/>
<ellipse cx="159.6" cy="888.6" rx="2.1" ry="1.9"/>
<ellipse cx="190.8" cy="865.3" rx="2.1" ry="1.9"/>
<ellipse cx="208.8" cy="857.0" rx="2.1" ry="1.9"/>
<ellipse cx="212.4" cy="953.7" rx="2.1" ry="1.9"/>
<ellipse cx="231.0" cy="931.3" rx="2.1" ry="1.9"/>
<ellipse cx="251.3" cy="952.0" rx="2.1" ry="1.9"/>
<ellipse cx="323.4" cy="879.8" rx="2.1" ry="1.9"/>
<ellipse cx="358.8" cy="953.4" rx="2.1" ry="1.9"/>
<ellipse cx="410.6" cy="951.9" rx="2.1" ry="1.9"/>
<ellipse cx="443.0" cy="951.4" rx="2.1" ry="1.9"/>
<ellipse cx="473.6" cy="926.3" rx="2.1" ry="1.9"/>
<ellipse cx="481.4" cy="867.8" rx="2.1" ry="1.9"/>
<ellipse cx="497.4" cy="951.4" rx="2.1" ry="1.9"/>
<ellipse cx="521.3" cy="873.3" rx="2.1" ry="1.9"/>
</g>
<path d="M79.9,952.4 L159.6,892.9 L190.8,865.3 L208.8,864.2 L212.4,951.9 L231.0,931.0 L251.3,951.7 L323.4,879.8 L358.8,951.4 L410.6,951.9 L443.0,952.4 L473.6,926.3 L481.4,859.7 L497.4,951.4 L521.3,868.3" fill="none" stroke="#4472c4" stroke-width="1.15" stroke-linejoin="round"/>
<g fill="#4472c4">
<ellipse cx="79.9" cy="952.4" rx="2.1" ry="1.9"/>
<ellipse cx="159.6" cy="892.9" rx="2.1" ry="1.9"/>
<ellipse cx="190.8" cy="865.3" rx="2.1" ry="1.9"/>
<ellipse cx="208.8" cy="864.2" rx="2.1" ry="1.9"/>
<ellipse cx="212.4" cy="951.9" rx="2.1" ry="1.9"/>
<ellipse cx="231.0" cy="931.0" rx="2.1" ry="1.9"/>
<ellipse cx="251.3" cy="951.7" rx="2.1" ry="1.9"/>
<ellipse cx="323.4" cy="879.8" rx="2.1" ry="1.9"/>
<ellipse cx="358.8" cy="951.4" rx="2.1" ry="1.9"/>
<ellipse cx="410.6" cy="951.9" rx="2.1" ry="1.9"/>
<ellipse cx="443.0" cy="952.4" rx="2.1" ry="1.9"/>
<ellipse cx="473.6" cy="926.3" rx="2.1" ry="1.9"/>
<ellipse cx="481.4" cy="859.7" rx="2.1" ry="1.9"/>
<ellipse cx="497.4" cy="951.4" rx="2.1" ry="1.9"/>
<ellipse cx="521.3" cy="868.3" rx="2.1" ry="1.9"/>
</g>
<line x1="63.1" y1="983.5" x2="90.7" y2="983.5" stroke="#8e1558" stroke-width="1.2"/>
<ellipse cx="77.1" cy="983.5" rx="3.5" ry="2.8" fill="#8e1558"/>
<text x="94.70" y="987.60" font-size="14" fill="#3a3a3a" textLength="39.90" lengthAdjust="spacingAndGlyphs">CTRL1</text>
<line x1="146.7" y1="983.5" x2="174.3" y2="983.5" stroke="#4472c4" stroke-width="1.2"/>
<ellipse cx="160.6" cy="983.5" rx="3.5" ry="2.8" fill="#4472c4"/>
<text x="180.10" y="987.60" font-size="14" fill="#3a3a3a" textLength="40.70" lengthAdjust="spacingAndGlyphs">CTRL2</text>
<text x="38.70" y="1020.40" font-size="14.6" fill="#1a1a1a" textLength="131.30" lengthAdjust="spacingAndGlyphs">CTRL1 Genomic DNA</text>
<clipPath id="cp0"><rect x="38.2" y="1029.6" width="206.3" height="117.0"/></clipPath>
<g clip-path="url(#cp0)" fill="none" stroke-width="0.95" stroke-linejoin="round">
<path d="M36.2,1142.7 L36.7,1142.7 L37.2,1142.6 L37.7,1142.6 L38.2,1142.6 L38.7,1142.6 L39.2,1142.6 L39.7,1142.6 L40.2,1142.6 L40.7,1142.6 L41.2,1142.6 L41.7,1142.6 L42.2,1142.7 L42.7,1142.8 L43.2,1142.9 L43.7,1143.0 L44.2,1143.2 L44.7,1143.3 L45.2,1143.5 L45.7,1143.7 L46.2,1143.8 L46.7,1144.0 L47.2,1144.1 L47.7,1144.3 L48.2,1144.4 L48.7,1144.5 L49.2,1144.6 L49.7,1144.6 L50.2,1144.6 L50.7,1144.6 L51.2,1144.6 L51.7,1144.6 L52.2,1144.5 L52.7,1144.5 L53.2,1144.5 L53.7,1144.4 L54.2,1144.4 L54.7,1144.3 L55.2,1144.3 L55.7,1144.2 L56.2,1144.2 L56.7,1144.1 L57.2,1144.1 L57.7,1144.0 L58.2,1144.0 L58.7,1143.9 L59.2,1143.9 L59.7,1143.9 L60.2,1143.8 L60.7,1143.8 L61.2,1143.8 L61.7,1143.8 L62.2,1143.8 L62.7,1143.8 L63.2,1143.8 L63.7,1143.8 L64.2,1143.9 L64.7,1143.9 L65.2,1143.9 L65.7,1143.9 L66.2,1144.0 L66.7,1144.0 L67.2,1144.1 L67.7,1144.1 L68.2,1144.2 L68.7,1144.2 L69.2,1144.3 L69.7,1144.3 L70.2,1144.4 L70.7,1144.4 L71.2,1144.5 L71.7,1144.6 L72.2,1144.6 L72.7,1144.7 L73.2,1144.7 L73.7,1144.8 L74.2,1144.8 L74.7,1144.9 L75.2,1144.9 L75.7,1145.0 L76.2,1145.0 L76.7,1145.1 L77.2,1145.1 L77.7,1145.2 L78.2,1145.3 L78.7,1145.3 L79.2,1145.4 L79.7,1145.5 L80.2,1145.5 L80.7,1145.6 L81.2,1145.7 L81.7,1145.7 L82.2,1145.8 L82.7,1145.9 L83.2,1146.0 L83.7,1146.0 L84.2,1146.1 L84.7,1146.2 L85.2,1146.2 L85.7,1146.3 L86.2,1146.3 L86.7,1146.4 L87.2,1146.4 L87.7,1146.5 L88.2,1146.5 L88.7,1146.6 L89.2,1146.6 L89.7,1146.6 L90.2,1146.7 L90.7,1146.7 L91.2,1146.7 L91.7,1146.7 L92.2,1146.7 L92.7,1146.6 L93.2,1146.4 L93.7,1146.1 L94.2,1145.7 L94.7,1145.2 L95.2,1144.8 L95.7,1144.3 L96.2,1143.7 L96.7,1143.2 L97.2,1142.7 L97.7,1142.3 L98.2,1141.9 L98.7,1141.6 L99.2,1141.4 L99.7,1141.2 L100.2,1141.2 L100.7,1141.3 L101.2,1141.5 L101.7,1141.8 L102.2,1142.2 L102.7,1142.7 L103.2,1143.1 L103.7,1143.6 L104.2,1144.2 L104.7,1144.7 L105.2,1145.2 L105.7,1145.6 L106.2,1146.0 L106.7,1146.3 L107.2,1146.5 L107.7,1146.7 L108.2,1146.7 L108.7,1146.7 L109.2,1146.7 L109.7,1146.6 L110.2,1146.5 L110.7,1146.5 L111.2,1146.4 L111.7,1146.3 L112.2,1146.2 L112.7,1146.1 L113.2,1146.0 L113.7,1145.9 L114.2,1145.8 L114.7,1145.6 L115.2,1145.5 L115.7,1145.4 L116.2,1145.3 L116.7,1145.2 L117.2,1145.1 L117.7,1145.0 L118.2,1144.9 L118.7,1144.8 L119.2,1144.7 L119.7,1144.6 L120.2,1144.6 L120.7,1144.5 L121.2,1144.5 L121.7,1144.4 L122.2,1144.4 L122.7,1144.3 L123.2,1144.3 L123.7,1144.2 L124.2,1144.2 L124.7,1144.1 L125.2,1144.1 L125.7,1144.1 L126.2,1144.0 L126.7,1144.0 L127.2,1143.9 L127.7,1143.9 L128.2,1143.8 L128.7,1143.8 L129.2,1143.8 L129.7,1143.7 L130.2,1143.7 L130.7,1143.6 L131.2,1143.6 L131.7,1143.6 L132.2,1143.5 L132.7,1143.5 L133.2,1143.5 L133.7,1143.4 L134.2,1143.4 L134.7,1143.4 L135.2,1143.4 L135.7,1143.3 L136.2,1143.3 L136.7,1143.3 L137.2,1143.3 L137.7,1143.3 L138.2,1143.2 L138.7,1143.2 L139.2,1143.2 L139.7,1143.2 L140.2,1143.2 L140.7,1143.2 L141.2,1143.2 L141.7,1143.2 L142.2,1143.3 L142.7,1143.4 L143.2,1143.5 L143.7,1143.7 L144.2,1144.0 L144.7,1144.3 L145.2,1144.6 L145.7,1144.9 L146.2,1145.2 L146.7,1145.5 L147.2,1145.8 L147.7,1146.1 L148.2,1146.3 L148.7,1146.5 L149.2,1146.6 L149.7,1146.7 L150.2,1146.7 L150.7,1146.7 L151.2,1146.7 L151.7,1146.7 L152.2,1146.7 L152.7,1146.7 L153.2,1146.7 L153.7,1146.7 L154.2,1146.7 L154.7,1146.7 L155.2,1146.7 L155.7,1146.7 L156.2,1146.7 L156.7,1146.7 L157.2,1146.7 L157.7,1146.7 L158.2,1146.7 L158.7,1146.7 L159.2,1146.7 L159.7,1146.7 L160.2,1146.7 L160.7,1146.7 L161.2,1146.7 L161.7,1146.7 L162.2,1146.7 L162.7,1146.7 L163.2,1146.7 L163.7,1146.7 L164.2,1146.7 L164.7,1146.7 L165.2,1146.7 L165.7,1146.7 L166.2,1146.7 L166.7,1146.7 L167.2,1146.7 L167.7,1146.7 L168.2,1146.7 L168.7,1146.7 L169.2,1146.7 L169.7,1146.7 L170.2,1146.7 L170.7,1146.7 L171.2,1146.7 L171.7,1146.7 L172.2,1146.7 L172.7,1146.7 L173.2,1146.7 L173.7,1146.7 L174.2,1146.7 L174.7,1146.7 L175.2,1146.7 L175.7,1146.7 L176.2,1146.7 L176.7,1146.7 L177.2,1146.7 L177.7,1146.7 L178.2,1146.7 L178.7,1146.6 L179.2,1146.5 L179.7,1146.3 L180.2,1146.1 L180.7,1145.8 L181.2,1145.6 L181.7,1145.3 L182.2,1145.0 L182.7,1144.7 L183.2,1144.4 L183.7,1144.2 L184.2,1143.9 L184.7,1143.8 L185.2,1143.7 L185.7,1143.6 L186.2,1143.6 L186.7,1143.7 L187.2,1143.8 L187.7,1144.0 L188.2,1144.2 L188.7,1144.5 L189.2,1144.8 L189.7,1145.0 L190.2,1145.3 L190.7,1145.6 L191.2,1145.9 L191.7,1146.1 L192.2,1146.3 L192.7,1146.5 L193.2,1146.6 L193.7,1146.7 L194.2,1146.7 L194.7,1146.7 L195.2,1146.7 L195.7,1146.7 L196.2,1146.7 L196.7,1146.7 L197.2,1146.7 L197.7,1146.7 L198.2,1146.7 L198.7,1146.7 L199.2,1146.7 L199.7,1146.7 L200.2,1146.7 L200.7,1146.7 L201.2,1146.7 L201.7,1146.7 L202.2,1146.7 L202.7,1146.7 L203.2,1146.7 L203.7,1146.7 L204.2,1146.7 L204.7,1146.7 L205.2,1146.7 L205.7,1146.7 L206.2,1146.7 L206.7,1146.7 L207.2,1146.7 L207.7,1146.7 L208.2,1146.7 L208.7,1146.7 L209.2,1146.7 L209.7,1146.7 L210.2,1146.7 L210.7,1146.7 L211.2,1146.7 L211.7,1146.7 L212.2,1146.7 L212.7,1146.7 L213.2,1146.7 L213.7,1146.7 L214.2,1146.7 L214.7,1146.6 L215.2,1146.5 L215.7,1146.2 L216.2,1146.0 L216.7,1145.7 L217.2,1145.3 L217.7,1145.0 L218.2,1144.7 L218.7,1144.4 L219.2,1144.1 L219.7,1143.9 L220.2,1143.7 L220.7,1143.6 L221.2,1143.6 L221.7,1143.7 L222.2,1143.8 L222.7,1144.1 L223.2,1144.3 L223.7,1144.6 L224.2,1145.0 L224.7,1145.3 L225.2,1145.6 L225.7,1145.9 L226.2,1146.2 L226.7,1146.4 L227.2,1146.6 L227.7,1146.7 L228.2,1146.7 L228.7,1146.7 L229.2,1146.7 L229.7,1146.7 L230.2,1146.7 L230.7,1146.7 L231.2,1146.7 L231.7,1146.7 L232.2,1146.7 L232.7,1146.7 L233.2,1146.7 L233.7,1146.7 L234.2,1146.7 L234.7,1146.7 L235.2,1146.7 L235.7,1146.7 L236.2,1146.7 L236.7,1146.7 L237.2,1146.7 L237.7,1146.7 L238.2,1146.7 L238.7,1146.7 L239.2,1146.7 L239.7,1146.7 L240.2,1146.7 L240.7,1146.7 L241.2,1146.7 L241.7,1146.7 L242.2,1146.7 L242.7,1146.7 L243.2,1146.7 L243.7,1146.7 L244.2,1146.7 L244.7,1146.7 L245.2,1146.7 L245.7,1146.7 L246.2,1146.7" stroke="#2b2b2b" stroke-width="0.9"/>
<path d="M36.2,1146.7 L36.7,1146.7 L37.2,1146.7 L37.7,1146.7 L38.2,1146.7 L38.7,1146.7 L39.2,1146.7 L39.7,1146.7 L40.2,1146.7 L40.7,1146.7 L41.2,1146.7 L41.7,1146.7 L42.2,1146.7 L42.7,1146.7 L43.2,1146.7 L43.7,1146.7 L44.2,1146.7 L44.7,1146.7 L45.2,1146.7 L45.7,1146.7 L46.2,1146.7 L46.7,1146.7 L47.2,1146.7 L47.7,1146.7 L48.2,1146.7 L48.7,1146.7 L49.2,1146.7 L49.7,1146.7 L50.2,1146.7 L50.7,1146.7 L51.2,1146.7 L51.7,1146.7 L52.2,1146.7 L52.7,1146.7 L53.2,1146.7 L53.7,1146.7 L54.2,1146.7 L54.7,1146.7 L55.2,1146.7 L55.7,1146.7 L56.2,1146.7 L56.7,1146.7 L57.2,1146.7 L57.7,1146.7 L58.2,1146.7 L58.7,1146.7 L59.2,1146.7 L59.7,1146.7 L60.2,1146.7 L60.7,1146.7 L61.2,1146.7 L61.7,1146.7 L62.2,1146.7 L62.7,1146.7 L63.2,1146.7 L63.7,1146.7 L64.2,1146.7 L64.7,1146.7 L65.2,1146.7 L65.7,1146.7 L66.2,1146.7 L66.7,1146.7 L67.2,1146.7 L67.7,1146.7 L68.2,1146.7 L68.7,1146.7 L69.2,1146.7 L69.7,1146.7 L70.2,1146.7 L70.7,1146.7 L71.2,1146.7 L71.7,1146.7 L72.2,1146.7 L72.7,1146.7 L73.2,1146.7 L73.7,1146.7 L74.2,1146.7 L74.7,1146.7 L75.2,1146.7 L75.7,1146.7 L76.2,1146.7 L76.7,1146.7 L77.2,1146.7 L77.7,1146.7 L78.2,1146.7 L78.7,1146.7 L79.2,1146.7 L79.7,1146.7 L80.2,1146.7 L80.7,1146.7 L81.2,1146.7 L81.7,1146.7 L82.2,1146.7 L82.7,1146.7 L83.2,1146.7 L83.7,1146.7 L84.2,1146.7 L84.7,1146.7 L85.2,1146.7 L85.7,1146.7 L86.2,1146.7 L86.7,1146.7 L87.2,1146.7 L87.7,1146.7 L88.2,1146.7 L88.7,1146.7 L89.2,1146.7 L89.7,1146.7 L90.2,1146.7 L90.7,1146.7 L91.2,1146.7 L91.7,1146.7 L92.2,1146.7 L92.7,1146.7 L93.2,1146.7 L93.7,1146.7 L94.2,1146.7 L94.7,1146.7 L95.2,1146.7 L95.7,1146.7 L96.2,1146.7 L96.7,1146.7 L97.2,1146.7 L97.7,1146.7 L98.2,1146.7 L98.7,1146.7 L99.2,1146.7 L99.7,1146.7 L100.2,1146.7 L100.7,1146.7 L101.2,1146.7 L101.7,1146.7 L102.2,1146.7 L102.7,1146.7 L103.2,1146.7 L103.7,1146.7 L104.2,1146.7 L104.7,1146.7 L105.2,1146.7 L105.7,1146.7 L106.2,1146.7 L106.7,1146.6 L107.2,1146.5 L107.7,1146.3 L108.2,1146.1 L108.7,1145.8 L109.2,1145.5 L109.7,1145.3 L110.2,1145.1 L110.7,1144.9 L111.2,1144.7 L111.7,1144.6 L112.2,1144.6 L112.7,1144.6 L113.2,1144.7 L113.7,1144.8 L114.2,1145.0 L114.7,1145.2 L115.2,1145.3 L115.7,1145.5 L116.2,1145.7 L116.7,1145.9 L117.2,1146.1 L117.7,1146.3 L118.2,1146.4 L118.7,1146.6 L119.2,1146.6 L119.7,1146.7 L120.2,1146.7 L120.7,1146.7 L121.2,1146.7 L121.7,1146.7 L122.2,1146.7 L122.7,1146.7 L123.2,1146.7 L123.7,1146.7 L124.2,1146.7 L124.7,1146.7 L125.2,1146.7 L125.7,1146.7 L126.2,1146.7 L126.7,1146.7 L127.2,1146.7 L127.7,1146.7 L128.2,1146.7 L128.7,1146.7 L129.2,1146.7 L129.7,1146.7 L130.2,1146.7 L130.7,1146.7 L131.2,1146.7 L131.7,1146.7 L132.2,1146.7 L132.7,1146.7 L133.2,1146.7 L133.7,1146.7 L134.2,1146.7 L134.7,1146.7 L135.2,1146.7 L135.7,1146.7 L136.2,1146.7 L136.7,1146.7 L137.2,1146.7 L137.7,1146.7 L138.2,1146.7 L138.7,1146.7 L139.2,1146.7 L139.7,1146.7 L140.2,1146.7 L140.7,1146.7 L141.2,1146.7 L141.7,1146.7 L142.2,1146.7 L142.7,1146.7 L143.2,1146.7 L143.7,1146.7 L144.2,1146.7 L144.7,1146.7 L145.2,1146.7 L145.7,1146.7 L146.2,1146.6 L146.7,1146.5 L147.2,1146.3 L147.7,1146.0 L148.2,1145.7 L148.7,1145.3 L149.2,1144.9 L149.7,1144.4 L150.2,1144.0 L150.7,1143.5 L151.2,1143.1 L151.7,1142.6 L152.2,1142.2 L152.7,1141.8 L153.2,1141.5 L153.7,1141.2 L154.2,1141.0 L154.7,1140.9 L155.2,1140.8 L155.7,1140.8 L156.2,1140.8 L156.7,1140.8 L157.2,1140.9 L157.7,1140.9 L158.2,1141.0 L158.7,1141.1 L159.2,1141.1 L159.7,1141.2 L160.2,1141.3 L160.7,1141.4 L161.2,1141.5 L161.7,1141.6 L162.2,1141.8 L162.7,1141.9 L163.2,1142.0 L163.7,1142.1 L164.2,1142.3 L164.7,1142.4 L165.2,1142.5 L165.7,1142.7 L166.2,1142.8 L166.7,1142.9 L167.2,1143.0 L167.7,1143.2 L168.2,1143.3 L168.7,1143.4 L169.2,1143.5 L169.7,1143.7 L170.2,1143.8 L170.7,1143.9 L171.2,1144.0 L171.7,1144.1 L172.2,1144.2 L172.7,1144.2 L173.2,1144.3 L173.7,1144.4 L174.2,1144.4 L174.7,1144.5 L175.2,1144.5 L175.7,1144.5 L176.2,1144.5 L176.7,1144.5 L177.2,1144.5 L177.7,1144.4 L178.2,1144.4 L178.7,1144.3 L179.2,1144.3 L179.7,1144.2 L180.2,1144.1 L180.7,1144.0 L181.2,1143.9 L181.7,1143.7 L182.2,1143.6 L182.7,1143.5 L183.2,1143.3 L183.7,1143.2 L184.2,1143.0 L184.7,1142.9 L185.2,1142.7 L185.7,1142.5 L186.2,1142.3 L186.7,1142.1 L187.2,1142.0 L187.7,1141.8 L188.2,1141.6 L188.7,1141.4 L189.2,1141.2 L189.7,1141.0 L190.2,1140.8 L190.7,1140.6 L191.2,1140.4 L191.7,1140.2 L192.2,1140.0 L192.7,1139.8 L193.2,1139.6 L193.7,1139.5 L194.2,1139.3 L194.7,1139.1 L195.2,1138.9 L195.7,1138.7 L196.2,1138.6 L196.7,1138.4 L197.2,1138.3 L197.7,1138.1 L198.2,1138.0 L198.7,1137.9 L199.2,1137.7 L199.7,1137.6 L200.2,1137.5 L200.7,1137.4 L201.2,1137.3 L201.7,1137.3 L202.2,1137.2 L202.7,1137.2 L203.2,1137.1 L203.7,1137.1 L204.2,1137.1 L204.7,1137.1 L205.2,1137.2 L205.7,1137.3 L206.2,1137.5 L206.7,1137.7 L207.2,1137.9 L207.7,1138.2 L208.2,1138.4 L208.7,1138.7 L209.2,1139.0 L209.7,1139.2 L210.2,1139.5 L210.7,1139.7 L211.2,1139.9 L211.7,1140.1 L212.2,1140.2 L212.7,1140.3 L213.2,1140.3 L213.7,1140.3 L214.2,1140.3 L214.7,1140.2 L215.2,1140.1 L215.7,1140.1 L216.2,1140.0 L216.7,1139.9 L217.2,1139.9 L217.7,1139.8 L218.2,1139.8 L218.7,1139.7 L219.2,1139.7 L219.7,1139.7 L220.2,1139.8 L220.7,1140.0 L221.2,1140.3 L221.7,1140.6 L222.2,1141.0 L222.7,1141.5 L223.2,1142.0 L223.7,1142.5 L224.2,1143.1 L224.7,1143.6 L225.2,1144.2 L225.7,1144.7 L226.2,1145.2 L226.7,1145.6 L227.2,1146.0 L227.7,1146.3 L228.2,1146.5 L228.7,1146.7 L229.2,1146.7 L229.7,1146.7 L230.2,1146.7 L230.7,1146.7 L231.2,1146.7 L231.7,1146.7 L232.2,1146.7 L232.7,1146.7 L233.2,1146.7 L233.7,1146.7 L234.2,1146.7 L234.7,1146.7 L235.2,1146.7 L235.7,1146.7 L236.2,1146.7 L236.7,1146.7 L237.2,1146.7 L237.7,1146.7 L238.2,1146.7 L238.7,1146.7 L239.2,1146.7 L239.7,1146.7 L240.2,1146.7 L240.7,1146.7 L241.2,1146.7 L241.7,1146.7 L242.2,1146.7 L242.7,1146.7 L243.2,1146.7 L243.7,1146.7 L244.2,1146.7 L244.7,1146.7 L245.2,1146.7 L245.7,1146.7 L246.2,1146.7" stroke="#4472c4" stroke-width="0.9"/>
<path d="M36.2,1107.1 L36.7,1110.2 L37.2,1113.2 L37.7,1116.1 L38.2,1118.9 L38.7,1121.5 L39.2,1124.1 L39.7,1126.5 L40.2,1128.7 L40.7,1130.9 L41.2,1132.9 L41.7,1134.8 L42.2,1136.6 L42.7,1138.2 L43.2,1139.7 L43.7,1141.1 L44.2,1142.3 L44.7,1143.4 L45.2,1144.3 L45.7,1145.1 L46.2,1145.7 L46.7,1146.2 L47.2,1146.5 L47.7,1146.7 L48.2,1146.7 L48.7,1146.7 L49.2,1146.7 L49.7,1146.7 L50.2,1146.7 L50.7,1146.7 L51.2,1146.7 L51.7,1146.7 L52.2,1146.6 L52.7,1146.1 L53.2,1144.9 L53.7,1143.2 L54.2,1140.9 L54.7,1138.3 L55.2,1135.2 L55.7,1131.7 L56.2,1128.0 L56.7,1124.0 L57.2,1119.8 L57.7,1115.4 L58.2,1110.9 L58.7,1106.4 L59.2,1101.8 L59.7,1097.3 L60.2,1092.8 L60.7,1088.5 L61.2,1084.4 L61.7,1080.5 L62.2,1076.8 L62.7,1073.5 L63.2,1070.6 L63.7,1068.1 L64.2,1066.1 L64.7,1064.6 L65.2,1063.6 L65.7,1063.3 L66.2,1063.5 L66.7,1064.2 L67.2,1065.3 L67.7,1066.8 L68.2,1068.6 L68.7,1070.7 L69.2,1073.2 L69.7,1075.9 L70.2,1078.9 L70.7,1082.0 L71.2,1085.4 L71.7,1088.9 L72.2,1092.5 L72.7,1096.2 L73.2,1100.0 L73.7,1103.8 L74.2,1107.7 L74.7,1111.5 L75.2,1115.3 L75.7,1119.0 L76.2,1122.5 L76.7,1126.0 L77.2,1129.3 L77.7,1132.4 L78.2,1135.2 L78.7,1137.8 L79.2,1140.2 L79.7,1142.2 L80.2,1143.9 L80.7,1145.2 L81.2,1146.1 L81.7,1146.6 L82.2,1146.7 L82.7,1146.7 L83.2,1146.7 L83.7,1146.7 L84.2,1146.7 L84.7,1146.7 L85.2,1146.7 L85.7,1146.7 L86.2,1146.6 L86.7,1146.1 L87.2,1144.9 L87.7,1143.1 L88.2,1140.8 L88.7,1138.0 L89.2,1134.9 L89.7,1131.3 L90.2,1127.4 L90.7,1123.3 L91.2,1118.9 L91.7,1114.3 L92.2,1109.6 L92.7,1104.8 L93.2,1100.0 L93.7,1095.2 L94.2,1090.4 L94.7,1085.7 L95.2,1081.2 L95.7,1076.9 L96.2,1072.9 L96.7,1069.1 L97.2,1065.7 L97.7,1062.7 L98.2,1060.1 L98.7,1058.0 L99.2,1056.5 L99.7,1055.5 L100.2,1055.2 L100.7,1055.5 L101.2,1056.5 L101.7,1058.0 L102.2,1060.1 L102.7,1062.6 L103.2,1065.6 L103.7,1069.0 L104.2,1072.7 L104.7,1076.7 L105.2,1080.9 L105.7,1085.4 L106.2,1090.0 L106.7,1094.7 L107.2,1099.5 L107.7,1104.3 L108.2,1109.1 L108.7,1113.8 L109.2,1118.3 L109.7,1122.7 L110.2,1126.9 L110.7,1130.8 L111.2,1134.3 L111.7,1137.5 L112.2,1140.4 L112.7,1142.7 L113.2,1144.6 L113.7,1145.9 L114.2,1146.6 L114.7,1146.7 L115.2,1146.7 L115.7,1146.7 L116.2,1146.7 L116.7,1146.7 L117.2,1146.7 L117.7,1146.7 L118.2,1146.7 L118.7,1146.7 L119.2,1146.7 L119.7,1146.7 L120.2,1146.7 L120.7,1146.7 L121.2,1146.7 L121.7,1146.2 L122.2,1145.2 L122.7,1143.9 L123.2,1142.1 L123.7,1140.0 L124.2,1137.6 L124.7,1135.0 L125.2,1132.2 L125.7,1129.3 L126.2,1126.2 L126.7,1123.2 L127.2,1120.1 L127.7,1117.0 L128.2,1114.1 L128.7,1111.3 L129.2,1108.7 L129.7,1106.3 L130.2,1104.2 L130.7,1102.4 L131.2,1101.1 L131.7,1100.1 L132.2,1099.6 L132.7,1099.7 L133.2,1100.1 L133.7,1100.8 L134.2,1101.9 L134.7,1103.2 L135.2,1104.8 L135.7,1106.6 L136.2,1108.6 L136.7,1110.7 L137.2,1113.1 L137.7,1115.5 L138.2,1118.0 L138.7,1120.6 L139.2,1123.2 L139.7,1125.7 L140.2,1128.3 L140.7,1130.8 L141.2,1133.2 L141.7,1135.6 L142.2,1137.7 L142.7,1139.7 L143.2,1141.5 L143.7,1143.1 L144.2,1144.4 L144.7,1145.5 L145.2,1146.2 L145.7,1146.6 L146.2,1146.7 L146.7,1146.7 L147.2,1146.7 L147.7,1146.7 L148.2,1146.7 L148.7,1146.7 L149.2,1146.7 L149.7,1146.7 L150.2,1146.7 L150.7,1146.7 L151.2,1146.7 L151.7,1146.7 L152.2,1146.7 L152.7,1146.7 L153.2,1146.6 L153.7,1146.1 L154.2,1145.1 L154.7,1143.8 L155.2,1142.1 L155.7,1140.1 L156.2,1137.9 L156.7,1135.4 L157.2,1132.7 L157.7,1129.9 L158.2,1127.0 L158.7,1124.1 L159.2,1121.1 L159.7,1118.2 L160.2,1115.3 L160.7,1112.5 L161.2,1109.9 L161.7,1107.4 L162.2,1105.2 L162.7,1103.3 L163.2,1101.7 L163.7,1100.4 L164.2,1099.6 L164.7,1099.1 L165.2,1099.2 L165.7,1099.6 L166.2,1100.3 L166.7,1101.3 L167.2,1102.7 L167.7,1104.3 L168.2,1106.1 L168.7,1108.1 L169.2,1110.2 L169.7,1112.5 L170.2,1115.0 L170.7,1117.5 L171.2,1120.0 L171.7,1122.6 L172.2,1125.2 L172.7,1127.8 L173.2,1130.3 L173.7,1132.8 L174.2,1135.1 L174.7,1137.3 L175.2,1139.4 L175.7,1141.2 L176.2,1142.8 L176.7,1144.2 L177.2,1145.3 L177.7,1146.1 L178.2,1146.6 L178.7,1146.7 L179.2,1146.7 L179.7,1146.7 L180.2,1146.7 L180.7,1146.7 L181.2,1146.7 L181.7,1146.7 L182.2,1146.7 L182.7,1146.7 L183.2,1146.7 L183.7,1146.7 L184.2,1146.7 L184.7,1146.7 L185.2,1146.7 L185.7,1146.7 L186.2,1146.7 L186.7,1146.7 L187.2,1146.7 L187.7,1146.7 L188.2,1146.7 L188.7,1146.7 L189.2,1146.7 L189.7,1146.7 L190.2,1146.7 L190.7,1146.7 L191.2,1146.7 L191.7,1146.7 L192.2,1146.7 L192.7,1146.7 L193.2,1146.7 L193.7,1146.7 L194.2,1146.7 L194.7,1146.7 L195.2,1146.7 L195.7,1146.7 L196.2,1146.7 L196.7,1146.7 L197.2,1146.7 L197.7,1146.7 L198.2,1146.7 L198.7,1146.7 L199.2,1146.7 L199.7,1146.7 L200.2,1146.7 L200.7,1146.7 L201.2,1146.7 L201.7,1146.7 L202.2,1146.7 L202.7,1146.7 L203.2,1146.7 L203.7,1146.7 L204.2,1146.7 L204.7,1146.7 L205.2,1146.7 L205.7,1146.7 L206.2,1146.7 L206.7,1146.7 L207.2,1146.7 L207.7,1146.7 L208.2,1146.7 L208.7,1146.7 L209.2,1146.6 L209.7,1146.5 L210.2,1146.4 L210.7,1146.3 L211.2,1146.1 L211.7,1145.9 L212.2,1145.8 L212.7,1145.6 L213.2,1145.4 L213.7,1145.2 L214.2,1145.0 L214.7,1144.8 L215.2,1144.6 L215.7,1144.4 L216.2,1144.2 L216.7,1144.1 L217.2,1143.9 L217.7,1143.8 L218.2,1143.7 L218.7,1143.6 L219.2,1143.6 L219.7,1143.6 L220.2,1143.7 L220.7,1143.8 L221.2,1143.9 L221.7,1144.1 L222.2,1144.3 L222.7,1144.6 L223.2,1144.9 L223.7,1145.1 L224.2,1145.4 L224.7,1145.7 L225.2,1145.9 L225.7,1146.1 L226.2,1146.3 L226.7,1146.5 L227.2,1146.6 L227.7,1146.7 L228.2,1146.7 L228.7,1146.7 L229.2,1146.7 L229.7,1146.7 L230.2,1146.7 L230.7,1146.7 L231.2,1146.7 L231.7,1146.7 L232.2,1146.7 L232.7,1146.7 L233.2,1146.7 L233.7,1146.7 L234.2,1146.7 L234.7,1146.7 L235.2,1146.7 L235.7,1146.7 L236.2,1146.7 L236.7,1146.7 L237.2,1146.7 L237.7,1146.7 L238.2,1146.7 L238.7,1146.7 L239.2,1146.7 L239.7,1146.7 L240.2,1146.7 L240.7,1146.7 L241.2,1146.7 L241.7,1146.7 L242.2,1146.7 L242.7,1146.7 L243.2,1146.7 L243.7,1146.7 L244.2,1146.7 L244.7,1146.7 L245.2,1146.7 L245.7,1146.7 L246.2,1146.7" stroke="#3aaa3f"/>
<path d="M36.2,1140.8 L36.7,1138.6 L37.2,1136.1 L37.7,1133.5 L38.2,1130.6 L38.7,1127.5 L39.2,1124.3 L39.7,1120.9 L40.2,1117.5 L40.7,1114.0 L41.2,1110.5 L41.7,1107.0 L42.2,1103.5 L42.7,1100.1 L43.2,1096.8 L43.7,1093.6 L44.2,1090.5 L44.7,1087.7 L45.2,1085.0 L45.7,1082.6 L46.2,1080.5 L46.7,1078.7 L47.2,1077.2 L47.7,1076.1 L48.2,1075.3 L48.7,1075.0 L49.2,1075.2 L49.7,1076.0 L50.2,1077.4 L50.7,1079.3 L51.2,1081.7 L51.7,1084.5 L52.2,1087.7 L52.7,1091.1 L53.2,1094.9 L53.7,1098.8 L54.2,1102.9 L54.7,1107.0 L55.2,1111.3 L55.7,1115.5 L56.2,1119.7 L56.7,1123.7 L57.2,1127.6 L57.7,1131.3 L58.2,1134.7 L58.7,1137.8 L59.2,1140.5 L59.7,1142.8 L60.2,1144.6 L60.7,1145.9 L61.2,1146.6 L61.7,1146.7 L62.2,1146.7 L62.7,1146.7 L63.2,1146.7 L63.7,1146.7 L64.2,1146.7 L64.7,1146.7 L65.2,1146.7 L65.7,1146.7 L66.2,1146.7 L66.7,1146.7 L67.2,1146.7 L67.7,1146.7 L68.2,1146.7 L68.7,1146.7 L69.2,1146.7 L69.7,1146.1 L70.2,1145.1 L70.7,1143.6 L71.2,1141.7 L71.7,1139.3 L72.2,1136.6 L72.7,1133.6 L73.2,1130.3 L73.7,1126.8 L74.2,1123.1 L74.7,1119.2 L75.2,1115.3 L75.7,1111.3 L76.2,1107.2 L76.7,1103.2 L77.2,1099.3 L77.7,1095.4 L78.2,1091.7 L78.7,1088.2 L79.2,1084.9 L79.7,1081.9 L80.2,1079.2 L80.7,1076.8 L81.2,1074.9 L81.7,1073.4 L82.2,1072.4 L82.7,1071.8 L83.2,1071.9 L83.7,1072.6 L84.2,1073.9 L84.7,1075.8 L85.2,1078.1 L85.7,1080.9 L86.2,1084.0 L86.7,1087.5 L87.2,1091.2 L87.7,1095.2 L88.2,1099.3 L88.7,1103.6 L89.2,1107.9 L89.7,1112.3 L90.2,1116.6 L90.7,1120.8 L91.2,1124.9 L91.7,1128.8 L92.2,1132.5 L92.7,1135.8 L93.2,1138.8 L93.7,1141.4 L94.2,1143.5 L94.7,1145.2 L95.2,1146.2 L95.7,1146.7 L96.2,1146.7 L96.7,1146.7 L97.2,1146.7 L97.7,1146.7 L98.2,1146.7 L98.7,1146.7 L99.2,1146.7 L99.7,1146.7 L100.2,1146.7 L100.7,1146.7 L101.2,1146.7 L101.7,1146.7 L102.2,1146.7 L102.7,1146.7 L103.2,1146.6 L103.7,1146.0 L104.2,1144.8 L104.7,1143.0 L105.2,1140.7 L105.7,1137.9 L106.2,1134.7 L106.7,1131.2 L107.2,1127.3 L107.7,1123.2 L108.2,1118.8 L108.7,1114.3 L109.2,1109.8 L109.7,1105.1 L110.2,1100.5 L110.7,1095.9 L111.2,1091.5 L111.7,1087.2 L112.2,1083.1 L112.7,1079.3 L113.2,1075.8 L113.7,1072.7 L114.2,1070.0 L114.7,1067.8 L115.2,1066.1 L115.7,1065.0 L116.2,1064.5 L116.7,1064.8 L117.2,1065.9 L117.7,1067.7 L118.2,1070.2 L118.7,1073.3 L119.2,1076.9 L119.7,1080.8 L120.2,1085.2 L120.7,1089.8 L121.2,1094.5 L121.7,1099.4 L122.2,1104.2 L122.7,1109.0 L123.2,1113.6 L123.7,1118.0 L124.2,1122.1 L124.7,1125.7 L125.2,1128.9 L125.7,1131.6 L126.2,1133.5 L126.7,1134.8 L127.2,1135.2 L127.7,1134.9 L128.2,1134.1 L128.7,1132.8 L129.2,1131.2 L129.7,1129.3 L130.2,1127.2 L130.7,1125.0 L131.2,1122.8 L131.7,1120.7 L132.2,1118.7 L132.7,1117.0 L133.2,1115.6 L133.7,1114.6 L134.2,1114.0 L134.7,1114.1 L135.2,1114.4 L135.7,1115.0 L136.2,1115.8 L136.7,1116.6 L137.2,1117.5 L137.7,1118.2 L138.2,1118.8 L138.7,1119.1 L139.2,1119.0 L139.7,1118.5 L140.2,1117.6 L140.7,1116.3 L141.2,1114.7 L141.7,1112.8 L142.2,1110.7 L142.7,1108.3 L143.2,1105.7 L143.7,1103.1 L144.2,1100.3 L144.7,1097.5 L145.2,1094.7 L145.7,1091.9 L146.2,1089.1 L146.7,1086.5 L147.2,1084.0 L147.7,1081.8 L148.2,1079.7 L148.7,1077.9 L149.2,1076.4 L149.7,1075.3 L150.2,1074.5 L150.7,1074.2 L151.2,1074.4 L151.7,1075.3 L152.2,1076.8 L152.7,1078.9 L153.2,1081.4 L153.7,1084.4 L154.2,1087.7 L154.7,1091.3 L155.2,1095.1 L155.7,1099.2 L156.2,1103.3 L156.7,1107.4 L157.2,1111.5 L157.7,1115.6 L158.2,1119.4 L158.7,1123.1 L159.2,1126.5 L159.7,1129.5 L160.2,1132.2 L160.7,1134.3 L161.2,1135.9 L161.7,1136.9 L162.2,1137.3 L162.7,1136.9 L163.2,1135.7 L163.7,1134.0 L164.2,1131.7 L164.7,1129.0 L165.2,1126.1 L165.7,1122.9 L166.2,1119.7 L166.7,1116.6 L167.2,1113.6 L167.7,1110.9 L168.2,1108.6 L168.7,1106.8 L169.2,1105.6 L169.7,1104.5 L170.2,1103.5 L170.7,1102.5 L171.2,1101.7 L171.7,1100.9 L172.2,1100.1 L172.7,1099.4 L173.2,1098.6 L173.7,1097.9 L174.2,1097.2 L174.7,1096.4 L175.2,1095.6 L175.7,1094.7 L176.2,1093.8 L176.7,1092.8 L177.2,1091.9 L177.7,1091.0 L178.2,1090.0 L178.7,1089.1 L179.2,1088.2 L179.7,1087.3 L180.2,1086.4 L180.7,1085.6 L181.2,1084.9 L181.7,1084.2 L182.2,1083.7 L182.7,1083.2 L183.2,1082.8 L183.7,1082.5 L184.2,1082.3 L184.7,1082.2 L185.2,1082.4 L185.7,1082.9 L186.2,1083.7 L186.7,1084.8 L187.2,1086.1 L187.7,1087.5 L188.2,1089.1 L188.7,1090.8 L189.2,1092.5 L189.7,1094.2 L190.2,1095.9 L190.7,1097.5 L191.2,1099.0 L191.7,1100.3 L192.2,1101.4 L192.7,1102.3 L193.2,1102.8 L193.7,1103.1 L194.2,1103.0 L194.7,1102.4 L195.2,1101.5 L195.7,1100.3 L196.2,1098.8 L196.7,1097.1 L197.2,1095.3 L197.7,1093.3 L198.2,1091.3 L198.7,1089.3 L199.2,1087.3 L199.7,1085.5 L200.2,1083.8 L200.7,1082.3 L201.2,1081.1 L201.7,1080.2 L202.2,1079.6 L202.7,1079.5 L203.2,1079.9 L203.7,1080.8 L204.2,1082.1 L204.7,1083.8 L205.2,1085.7 L205.7,1087.8 L206.2,1090.1 L206.7,1092.4 L207.2,1094.6 L207.7,1096.8 L208.2,1098.8 L208.7,1100.5 L209.2,1101.9 L209.7,1102.9 L210.2,1103.4 L210.7,1103.3 L211.2,1102.7 L211.7,1101.5 L212.2,1100.0 L212.7,1098.0 L213.2,1095.8 L213.7,1093.3 L214.2,1090.7 L214.7,1087.9 L215.2,1085.2 L215.7,1082.4 L216.2,1079.8 L216.7,1077.3 L217.2,1075.1 L217.7,1073.1 L218.2,1071.6 L218.7,1070.4 L219.2,1069.8 L219.7,1069.8 L220.2,1070.4 L220.7,1071.7 L221.2,1073.6 L221.7,1075.9 L222.2,1078.6 L222.7,1081.6 L223.2,1084.7 L223.7,1087.8 L224.2,1090.9 L224.7,1093.9 L225.2,1096.6 L225.7,1099.0 L226.2,1101.0 L226.7,1102.5 L227.2,1103.3 L227.7,1103.3 L228.2,1102.6 L228.7,1101.1 L229.2,1098.9 L229.7,1096.3 L230.2,1093.2 L230.7,1089.9 L231.2,1086.3 L231.7,1082.7 L232.2,1079.1 L232.7,1075.7 L233.2,1072.5 L233.7,1069.7 L234.2,1067.3 L234.7,1065.5 L235.2,1064.5 L235.7,1064.2 L236.2,1064.6 L236.7,1065.5 L237.2,1066.8 L237.7,1068.6 L238.2,1070.7 L238.7,1073.1 L239.2,1075.7 L239.7,1078.5 L240.2,1081.5 L240.7,1084.5 L241.2,1087.6 L241.7,1090.6 L242.2,1093.5 L242.7,1096.4 L243.2,1099.0 L243.7,1101.4 L244.2,1103.6 L244.7,1105.7 L245.2,1107.8 L245.7,1109.8 L246.2,1111.8" stroke="#e8213f"/>
</g>
<rect x="38.2" y="1029.6" width="206.3" height="117.0" fill="none" stroke="#404040" stroke-width="1.25"/>
<rect x="45.80" y="1032.60" width="3.8" height="5.3" fill="#fff" stroke="#d0d0d0" stroke-width="0.5"/>
<rect x="45.80" y="1035.25" width="3.8" height="2.65" fill="#e92743"/>
<text x="47.70" y="1046.70" font-size="7.8" font-weight="bold" text-anchor="middle" fill="#e92743" style="font-family:'Liberation Mono',monospace">T</text>
<rect x="62.87" y="1032.60" width="3.8" height="5.3" fill="#fff" stroke="#d0d0d0" stroke-width="0.5"/>
<rect x="62.87" y="1032.60" width="3.8" height="5.30" fill="#3cac43"/>
<text x="64.77" y="1046.70" font-size="7.8" font-weight="bold" text-anchor="middle" fill="#3cac43" style="font-family:'Liberation Mono',monospace">A</text>
<rect x="79.94" y="1032.60" width="3.8" height="5.3" fill="#fff" stroke="#d0d0d0" stroke-width="0.5"/>
<rect x="79.94" y="1034.46" width="3.8" height="3.44" fill="#e92743"/>
<text x="81.84" y="1046.70" font-size="7.8" font-weight="bold" text-anchor="middle" fill="#e92743" style="font-family:'Liberation Mono',monospace">T</text>
<rect x="97.01" y="1032.60" width="3.8" height="5.3" fill="#fff" stroke="#d0d0d0" stroke-width="0.5"/>
<rect x="97.01" y="1032.60" width="3.8" height="5.30" fill="#3cac43"/>
<text x="98.91" y="1046.70" font-size="7.8" font-weight="bold" text-anchor="middle" fill="#3cac43" style="font-family:'Liberation Mono',monospace">A</text>
<rect x="114.08" y="1032.60" width="3.8" height="5.3" fill="#fff" stroke="#d0d0d0" stroke-width="0.5"/>
<rect x="114.08" y="1035.25" width="3.8" height="2.65" fill="#e92743"/>
<text x="115.98" y="1046.70" font-size="7.8" font-weight="bold" text-anchor="middle" fill="#e92743" style="font-family:'Liberation Mono',monospace">T</text>
<rect x="131.15" y="1032.60" width="3.8" height="5.3" fill="#fff" stroke="#d0d0d0" stroke-width="0.5"/>
<text x="133.05" y="1046.70" font-size="7.8" font-weight="bold" text-anchor="middle" fill="#c74fba" style="font-family:'Liberation Mono',monospace">N</text>
<rect x="148.22" y="1032.60" width="3.8" height="5.3" fill="#fff" stroke="#d0d0d0" stroke-width="0.5"/>
<rect x="148.22" y="1035.25" width="3.8" height="2.65" fill="#e92743"/>
<text x="150.12" y="1046.70" font-size="7.8" font-weight="bold" text-anchor="middle" fill="#e92743" style="font-family:'Liberation Mono',monospace">T</text>
<rect x="165.29" y="1032.60" width="3.8" height="5.3" fill="#fff" stroke="#d0d0d0" stroke-width="0.5"/>
<text x="167.19" y="1046.70" font-size="7.8" font-weight="bold" text-anchor="middle" fill="#c74fba" style="font-family:'Liberation Mono',monospace">N</text>
<rect x="182.36" y="1032.60" width="3.8" height="5.3" fill="#fff" stroke="#d0d0d0" stroke-width="0.5"/>
<rect x="182.36" y="1035.52" width="3.8" height="2.38" fill="#e92743"/>
<text x="184.26" y="1046.70" font-size="7.8" font-weight="bold" text-anchor="middle" fill="#e92743" style="font-family:'Liberation Mono',monospace">T</text>
<rect x="199.43" y="1032.60" width="3.8" height="5.3" fill="#fff" stroke="#d0d0d0" stroke-width="0.5"/>
<rect x="199.43" y="1035.52" width="3.8" height="2.38" fill="#e92743"/>
<text x="201.33" y="1046.70" font-size="7.8" font-weight="bold" text-anchor="middle" fill="#e92743" style="font-family:'Liberation Mono',monospace">T</text>
<rect x="216.50" y="1032.60" width="3.8" height="5.3" fill="#fff" stroke="#d0d0d0" stroke-width="0.5"/>
<rect x="216.50" y="1035.52" width="3.8" height="2.38" fill="#e92743"/>
<text x="218.40" y="1046.70" font-size="7.8" font-weight="bold" text-anchor="middle" fill="#e92743" style="font-family:'Liberation Mono',monospace">T</text>
<rect x="233.57" y="1032.60" width="3.8" height="5.3" fill="#fff" stroke="#d0d0d0" stroke-width="0.5"/>
<rect x="233.57" y="1034.99" width="3.8" height="2.92" fill="#e92743"/>
<text x="235.47" y="1046.70" font-size="7.8" font-weight="bold" text-anchor="middle" fill="#e92743" style="font-family:'Liberation Mono',monospace">T</text>
<text x="132.40" y="1064.70" font-size="14.5" text-anchor="middle" fill="#333">*</text>
<text x="167.40" y="1064.70" font-size="14.5" text-anchor="middle" fill="#333">*</text>
<text x="253.40" y="1020.40" font-size="14.6" fill="#1a1a1a" textLength="90.70" lengthAdjust="spacingAndGlyphs">3C ICR1-Enh A</text>
<clipPath id="cp1"><rect x="253.1" y="1029.6" width="206.8" height="117.0"/></clipPath>
<g clip-path="url(#cp1)" fill="none" stroke-width="0.95" stroke-linejoin="round">
<path d="M251.1,1146.7 L251.6,1146.7 L252.1,1146.7 L252.6,1146.7 L253.1,1146.7 L253.6,1146.7 L254.1,1146.7 L254.6,1146.7 L255.1,1146.7 L255.6,1146.7 L256.1,1146.7 L256.6,1146.7 L257.1,1146.7 L257.6,1146.7 L258.1,1146.7 L258.6,1146.7 L259.1,1146.7 L259.6,1146.7 L260.1,1146.7 L260.6,1146.7 L261.1,1146.7 L261.6,1146.7 L262.1,1146.7 L262.6,1146.7 L263.1,1146.7 L263.6,1146.7 L264.1,1146.7 L264.6,1146.7 L265.1,1146.7 L265.6,1146.7 L266.1,1146.7 L266.6,1146.7 L267.1,1146.7 L267.6,1146.7 L268.1,1146.7 L268.6,1146.7 L269.1,1146.7 L269.6,1146.7 L270.1,1146.7 L270.6,1146.7 L271.1,1146.7 L271.6,1146.7 L272.1,1146.7 L272.6,1146.7 L273.1,1146.7 L273.6,1146.7 L274.1,1146.7 L274.6,1146.7 L275.1,1146.7 L275.6,1146.7 L276.1,1146.7 L276.6,1146.7 L277.1,1146.7 L277.6,1146.7 L278.1,1146.7 L278.6,1146.7 L279.1,1146.7 L279.6,1146.7 L280.1,1146.7 L280.6,1146.7 L281.1,1146.7 L281.6,1146.7 L282.1,1146.7 L282.6,1146.7 L283.1,1146.7 L283.6,1146.7 L284.1,1146.7 L284.6,1146.7 L285.1,1146.7 L285.6,1146.7 L286.1,1146.7 L286.6,1146.7 L287.1,1146.7 L287.6,1146.7 L288.1,1146.7 L288.6,1146.7 L289.1,1146.7 L289.6,1146.7 L290.1,1146.7 L290.6,1146.7 L291.1,1146.7 L291.6,1146.7 L292.1,1146.7 L292.6,1146.7 L293.1,1146.7 L293.6,1146.7 L294.1,1146.7 L294.6,1146.7 L295.1,1146.7 L295.6,1146.7 L296.1,1146.7 L296.6,1146.7 L297.1,1146.7 L297.6,1146.7 L298.1,1146.7 L298.6,1146.7 L299.1,1146.7 L299.6,1146.7 L300.1,1146.7 L300.6,1146.7 L301.1,1146.7 L301.6,1146.7 L302.1,1146.7 L302.6,1146.7 L303.1,1146.7 L303.6,1146.7 L304.1,1146.7 L304.6,1146.7 L305.1,1146.7 L305.6,1146.7 L306.1,1146.7 L306.6,1146.7 L307.1,1146.7 L307.6,1146.7 L308.1,1146.7 L308.6,1146.7 L309.1,1146.7 L309.6,1146.7 L310.1,1146.7 L310.6,1146.7 L311.1,1146.7 L311.6,1146.7 L312.1,1146.7 L312.6,1146.7 L313.1,1146.7 L313.6,1146.7 L314.1,1146.7 L314.6,1146.7 L315.1,1146.7 L315.6,1146.7 L316.1,1146.7 L316.6,1146.7 L317.1,1146.7 L317.6,1146.7 L318.1,1146.7 L318.6,1146.7 L319.1,1146.7 L319.6,1146.7 L320.1,1146.7 L320.6,1146.7 L321.1,1146.7 L321.6,1146.7 L322.1,1146.7 L322.6,1146.7 L323.1,1146.7 L323.6,1146.7 L324.1,1146.7 L324.6,1146.7 L325.1,1146.7 L325.6,1146.7 L326.1,1146.7 L326.6,1146.7 L327.1,1146.7 L327.6,1146.7 L328.1,1146.7 L328.6,1146.7 L329.1,1146.7 L329.6,1146.7 L330.1,1146.7 L330.6,1146.7 L331.1,1146.7 L331.6,1146.7 L332.1,1146.7 L332.6,1146.7 L333.1,1146.7 L333.6,1146.7 L334.1,1146.7 L334.6,1146.7 L335.1,1146.7 L335.6,1146.7 L336.1,1146.7 L336.6,1146.7 L337.1,1146.7 L337.6,1146.7 L338.1,1146.7 L338.6,1146.7 L339.1,1146.7 L339.6,1146.7 L340.1,1146.7 L340.6,1146.7 L341.1,1146.7 L341.6,1146.7 L342.1,1146.7 L342.6,1146.7 L343.1,1146.7 L343.6,1146.7 L344.1,1146.7 L344.6,1146.7 L345.1,1146.7 L345.6,1146.7 L346.1,1146.7 L346.6,1146.7 L347.1,1146.7 L347.6,1146.7 L348.1,1146.7 L348.6,1146.7 L349.1,1146.7 L349.6,1146.7 L350.1,1146.7 L350.6,1146.7 L351.1,1146.7 L351.6,1146.7 L352.1,1146.7 L352.6,1146.7 L353.1,1146.7 L353.6,1146.7 L354.1,1146.7 L354.6,1146.7 L355.1,1146.7 L355.6,1146.7 L356.1,1146.7 L356.6,1146.7 L357.1,1146.7 L357.6,1146.7 L358.1,1146.7 L358.6,1146.7 L359.1,1146.7 L359.6,1146.7 L360.1,1146.7 L360.6,1146.7 L361.1,1146.7 L361.6,1146.7 L362.1,1146.7 L362.6,1146.7 L363.1,1146.7 L363.6,1146.7 L364.1,1146.7 L364.6,1146.7 L365.1,1146.7 L365.6,1146.7 L366.1,1146.7 L366.6,1146.7 L367.1,1146.7 L367.6,1146.7 L368.1,1146.7 L368.6,1146.7 L369.1,1146.7 L369.6,1146.7 L370.1,1146.7 L370.6,1146.7 L371.1,1146.7 L371.6,1146.7 L372.1,1146.7 L372.6,1146.7 L373.1,1146.7 L373.6,1146.7 L374.1,1146.7 L374.6,1146.7 L375.1,1146.7 L375.6,1146.7 L376.1,1146.7 L376.6,1146.7 L377.1,1146.7 L377.6,1146.7 L378.1,1146.7 L378.6,1146.7 L379.1,1146.7 L379.6,1146.7 L380.1,1146.7 L380.6,1146.7 L381.1,1146.7 L381.6,1146.7 L382.1,1146.7 L382.6,1146.7 L383.1,1146.7 L383.6,1146.7 L384.1,1146.7 L384.6,1146.7 L385.1,1146.7 L385.6,1146.7 L386.1,1146.7 L386.6,1146.7 L387.1,1146.7 L387.6,1146.7 L388.1,1146.7 L388.6,1146.7 L389.1,1146.7 L389.6,1146.7 L390.1,1146.7 L390.6,1146.7 L391.1,1146.7 L391.6,1146.7 L392.1,1146.7 L392.6,1146.7 L393.1,1146.6 L393.6,1146.4 L394.1,1146.2 L394.6,1146.0 L395.1,1145.7 L395.6,1145.4 L396.1,1145.1 L396.6,1144.7 L397.1,1144.4 L397.6,1144.0 L398.1,1143.6 L398.6,1143.3 L399.1,1142.9 L399.6,1142.6 L400.1,1142.3 L400.6,1142.0 L401.1,1141.8 L401.6,1141.6 L402.1,1141.4 L402.6,1141.3 L403.1,1141.3 L403.6,1141.3 L404.1,1141.5 L404.6,1141.7 L405.1,1142.1 L405.6,1142.5 L406.1,1142.9 L406.6,1143.4 L407.1,1143.9 L407.6,1144.4 L408.1,1144.9 L408.6,1145.4 L409.1,1145.8 L409.6,1146.1 L410.1,1146.4 L410.6,1146.6 L411.1,1146.7 L411.6,1146.7 L412.1,1146.7 L412.6,1146.7 L413.1,1146.7 L413.6,1146.7 L414.1,1146.7 L414.6,1146.7 L415.1,1146.7 L415.6,1146.7 L416.1,1146.7 L416.6,1146.7 L417.1,1146.7 L417.6,1146.7 L418.1,1146.7 L418.6,1146.7 L419.1,1146.7 L419.6,1146.7 L420.1,1146.7 L420.6,1146.7 L421.1,1146.7 L421.6,1146.7 L422.1,1146.7 L422.6,1146.7 L423.1,1146.7 L423.6,1146.7 L424.1,1146.7 L424.6,1146.7 L425.1,1146.7 L425.6,1146.7 L426.1,1146.7 L426.6,1146.7 L427.1,1146.7 L427.6,1146.7 L428.1,1146.7 L428.6,1146.7 L429.1,1146.7 L429.6,1146.7 L430.1,1146.7 L430.6,1146.7 L431.1,1146.7 L431.6,1146.7 L432.1,1146.7 L432.6,1146.7 L433.1,1146.7 L433.6,1146.7 L434.1,1146.7 L434.6,1146.7 L435.1,1146.7 L435.6,1146.7 L436.1,1146.7 L436.6,1146.7 L437.1,1146.7 L437.6,1146.7 L438.1,1146.7 L438.6,1146.7 L439.1,1146.7 L439.6,1146.7 L440.1,1146.7 L440.6,1146.7 L441.1,1146.7 L441.6,1146.7 L442.1,1146.7 L442.6,1146.7 L443.1,1146.7 L443.6,1146.7 L444.1,1146.7 L444.6,1146.7 L445.1,1146.7 L445.6,1146.7 L446.1,1146.7 L446.6,1146.7 L447.1,1146.7 L447.6,1146.7 L448.1,1146.7 L448.6,1146.7 L449.1,1146.7 L449.6,1146.7 L450.1,1146.7 L450.6,1146.7 L451.1,1146.7 L451.6,1146.7 L452.1,1146.7 L452.6,1146.7 L453.1,1146.7 L453.6,1146.7 L454.1,1146.7 L454.6,1146.7 L455.1,1146.7 L455.6,1146.7 L456.1,1146.7 L456.6,1146.7 L457.1,1146.7 L457.6,1146.7 L458.1,1146.7 L458.6,1146.7 L459.1,1146.7 L459.6,1146.7 L460.1,1146.7 L460.6,1146.7 L461.1,1146.7 L461.6,1146.7" stroke="#2b2b2b" stroke-width="0.9"/>
<path d="M251.1,1143.6 L251.6,1143.7 L252.1,1143.7 L252.6,1143.8 L253.1,1143.9 L253.6,1144.0 L254.1,1144.2 L254.6,1144.4 L255.1,1144.6 L255.6,1144.8 L256.1,1145.0 L256.6,1145.3 L257.1,1145.5 L257.6,1145.8 L258.1,1146.0 L258.6,1146.2 L259.1,1146.4 L259.6,1146.5 L260.1,1146.6 L260.6,1146.7 L261.1,1146.7 L261.6,1146.7 L262.1,1146.7 L262.6,1146.7 L263.1,1146.7 L263.6,1146.7 L264.1,1146.7 L264.6,1146.7 L265.1,1146.7 L265.6,1146.7 L266.1,1146.7 L266.6,1146.7 L267.1,1146.7 L267.6,1146.7 L268.1,1146.7 L268.6,1146.7 L269.1,1146.7 L269.6,1146.7 L270.1,1146.7 L270.6,1146.7 L271.1,1146.7 L271.6,1146.7 L272.1,1146.7 L272.6,1146.7 L273.1,1146.7 L273.6,1146.7 L274.1,1146.7 L274.6,1146.7 L275.1,1146.7 L275.6,1146.7 L276.1,1146.7 L276.6,1146.7 L277.1,1146.7 L277.6,1146.6 L278.1,1146.5 L278.6,1146.3 L279.1,1146.1 L279.6,1145.9 L280.1,1145.7 L280.6,1145.4 L281.1,1145.2 L281.6,1144.9 L282.1,1144.7 L282.6,1144.4 L283.1,1144.2 L283.6,1143.9 L284.1,1143.7 L284.6,1143.5 L285.1,1143.3 L285.6,1143.2 L286.1,1143.1 L286.6,1143.0 L287.1,1143.0 L287.6,1143.0 L288.1,1143.1 L288.6,1143.3 L289.1,1143.4 L289.6,1143.6 L290.1,1143.8 L290.6,1144.1 L291.1,1144.4 L291.6,1144.6 L292.1,1144.9 L292.6,1145.2 L293.1,1145.5 L293.6,1145.7 L294.1,1145.9 L294.6,1146.2 L295.1,1146.4 L295.6,1146.5 L296.1,1146.6 L296.6,1146.7 L297.1,1146.7 L297.6,1146.7 L298.1,1146.7 L298.6,1146.7 L299.1,1146.7 L299.6,1146.7 L300.1,1146.7 L300.6,1146.7 L301.1,1146.7 L301.6,1146.7 L302.1,1146.7 L302.6,1146.7 L303.1,1146.7 L303.6,1146.7 L304.1,1146.7 L304.6,1146.7 L305.1,1146.7 L305.6,1146.7 L306.1,1146.7 L306.6,1146.7 L307.1,1146.7 L307.6,1146.7 L308.1,1146.7 L308.6,1146.7 L309.1,1146.7 L309.6,1146.7 L310.1,1146.7 L310.6,1146.6 L311.1,1146.4 L311.6,1146.2 L312.1,1146.0 L312.6,1145.7 L313.1,1145.4 L313.6,1145.2 L314.1,1144.9 L314.6,1144.6 L315.1,1144.3 L315.6,1144.1 L316.1,1143.9 L316.6,1143.7 L317.1,1143.6 L317.6,1143.6 L318.1,1143.6 L318.6,1143.7 L319.1,1143.9 L319.6,1144.1 L320.1,1144.3 L320.6,1144.6 L321.1,1144.8 L321.6,1145.1 L322.1,1145.4 L322.6,1145.7 L323.1,1145.9 L323.6,1146.2 L324.1,1146.4 L324.6,1146.5 L325.1,1146.7 L325.6,1146.7 L326.1,1146.7 L326.6,1146.7 L327.1,1146.7 L327.6,1146.7 L328.1,1146.7 L328.6,1146.7 L329.1,1146.7 L329.6,1146.7 L330.1,1146.7 L330.6,1146.6 L331.1,1146.4 L331.6,1146.2 L332.1,1145.9 L332.6,1145.7 L333.1,1145.3 L333.6,1145.0 L334.1,1144.7 L334.6,1144.4 L335.1,1144.1 L335.6,1143.8 L336.1,1143.6 L336.6,1143.4 L337.1,1143.3 L337.6,1143.2 L338.1,1143.2 L338.6,1143.3 L339.1,1143.5 L339.6,1143.7 L340.1,1143.9 L340.6,1144.2 L341.1,1144.5 L341.6,1144.9 L342.1,1145.2 L342.6,1145.5 L343.1,1145.8 L343.6,1146.1 L344.1,1146.3 L344.6,1146.5 L345.1,1146.6 L345.6,1146.7 L346.1,1146.7 L346.6,1146.7 L347.1,1146.7 L347.6,1146.7 L348.1,1146.7 L348.6,1146.7 L349.1,1146.7 L349.6,1146.7 L350.1,1146.7 L350.6,1146.7 L351.1,1146.7 L351.6,1146.7 L352.1,1146.7 L352.6,1146.7 L353.1,1146.7 L353.6,1146.7 L354.1,1146.7 L354.6,1146.7 L355.1,1146.7 L355.6,1146.7 L356.1,1146.7 L356.6,1146.7 L357.1,1146.7 L357.6,1146.7 L358.1,1146.7 L358.6,1146.7 L359.1,1146.7 L359.6,1146.7 L360.1,1146.7 L360.6,1146.7 L361.1,1146.7 L361.6,1146.7 L362.1,1146.7 L362.6,1146.7 L363.1,1146.7 L363.6,1146.7 L364.1,1146.7 L364.6,1146.7 L365.1,1146.7 L365.6,1146.7 L366.1,1146.7 L366.6,1146.7 L367.1,1146.7 L367.6,1146.7 L368.1,1146.7 L368.6,1146.7 L369.1,1146.7 L369.6,1146.7 L370.1,1146.7 L370.6,1146.7 L371.1,1146.7 L371.6,1146.7 L372.1,1146.7 L372.6,1146.7 L373.1,1146.7 L373.6,1146.7 L374.1,1146.7 L374.6,1146.7 L375.1,1146.7 L375.6,1146.7 L376.1,1146.7 L376.6,1146.7 L377.1,1146.7 L377.6,1146.7 L378.1,1146.7 L378.6,1146.7 L379.1,1146.7 L379.6,1146.7 L380.1,1146.7 L380.6,1146.7 L381.1,1146.7 L381.6,1146.7 L382.1,1146.7 L382.6,1146.7 L383.1,1146.7 L383.6,1146.7 L384.1,1146.7 L384.6,1146.7 L385.1,1146.7 L385.6,1146.7 L386.1,1146.7 L386.6,1146.7 L387.1,1146.7 L387.6,1146.7 L388.1,1146.7 L388.6,1146.7 L389.1,1146.7 L389.6,1146.7 L390.1,1146.7 L390.6,1146.7 L391.1,1146.7 L391.6,1146.7 L392.1,1146.7 L392.6,1146.7 L393.1,1146.7 L393.6,1146.7 L394.1,1146.7 L394.6,1146.7 L395.1,1146.7 L395.6,1146.7 L396.1,1146.7 L396.6,1146.7 L397.1,1146.7 L397.6,1146.7 L398.1,1146.7 L398.6,1146.7 L399.1,1146.7 L399.6,1146.7 L400.1,1146.7 L400.6,1146.7 L401.1,1146.7 L401.6,1146.7 L402.1,1146.7 L402.6,1146.7 L403.1,1146.7 L403.6,1146.7 L404.1,1146.7 L404.6,1146.7 L405.1,1146.7 L405.6,1146.7 L406.1,1146.7 L406.6,1146.7 L407.1,1146.7 L407.6,1146.7 L408.1,1146.7 L408.6,1146.7 L409.1,1146.7 L409.6,1146.7 L410.1,1146.7 L410.6,1146.7 L411.1,1146.7 L411.6,1146.6 L412.1,1146.4 L412.6,1146.0 L413.1,1145.6 L413.6,1145.0 L414.1,1144.4 L414.6,1143.7 L415.1,1143.1 L415.6,1142.6 L416.1,1142.1 L416.6,1141.7 L417.1,1141.4 L417.6,1141.3 L418.1,1141.4 L418.6,1141.6 L419.1,1142.0 L419.6,1142.5 L420.1,1143.1 L420.6,1143.7 L421.1,1144.3 L421.6,1144.9 L422.1,1145.5 L422.6,1146.0 L423.1,1146.4 L423.6,1146.6 L424.1,1146.7 L424.6,1146.7 L425.1,1146.7 L425.6,1146.7 L426.1,1146.7 L426.6,1146.5 L427.1,1146.4 L427.6,1146.1 L428.1,1145.8 L428.6,1145.5 L429.1,1145.1 L429.6,1144.7 L430.1,1144.4 L430.6,1144.0 L431.1,1143.7 L431.6,1143.5 L432.1,1143.3 L432.6,1143.2 L433.1,1143.2 L433.6,1143.3 L434.1,1143.5 L434.6,1143.7 L435.1,1144.0 L435.6,1144.3 L436.1,1144.7 L436.6,1145.0 L437.1,1145.4 L437.6,1145.7 L438.1,1146.0 L438.6,1146.3 L439.1,1146.5 L439.6,1146.7 L440.1,1146.7 L440.6,1146.7 L441.1,1146.7 L441.6,1146.6 L442.1,1146.4 L442.6,1146.2 L443.1,1145.8 L443.6,1145.5 L444.1,1145.1 L444.6,1144.7 L445.1,1144.2 L445.6,1143.8 L446.1,1143.4 L446.6,1143.0 L447.1,1142.7 L447.6,1142.4 L448.1,1142.2 L448.6,1142.0 L449.1,1142.0 L449.6,1142.1 L450.1,1142.4 L450.6,1142.7 L451.1,1143.2 L451.6,1143.7 L452.1,1144.2 L452.6,1144.8 L453.1,1145.3 L453.6,1145.8 L454.1,1146.2 L454.6,1146.5 L455.1,1146.7 L455.6,1146.7 L456.1,1146.7 L456.6,1146.7 L457.1,1146.7 L457.6,1146.7 L458.1,1146.7 L458.6,1146.7 L459.1,1146.7 L459.6,1146.7 L460.1,1146.7 L460.6,1146.7 L461.1,1146.7 L461.6,1146.7" stroke="#4472c4" stroke-width="0.9"/>
<path d="M251.1,1118.4 L251.6,1121.9 L252.1,1125.2 L252.6,1128.3 L253.1,1131.3 L253.6,1134.0 L254.1,1136.5 L254.6,1138.7 L255.1,1140.7 L255.6,1142.4 L256.1,1143.9 L256.6,1145.0 L257.1,1145.9 L257.6,1146.5 L258.1,1146.7 L258.6,1146.7 L259.1,1146.7 L259.6,1146.7 L260.1,1146.7 L260.6,1146.7 L261.1,1146.7 L261.6,1146.7 L262.1,1146.7 L262.6,1146.7 L263.1,1146.7 L263.6,1146.7 L264.1,1146.7 L264.6,1146.7 L265.1,1146.7 L265.6,1146.7 L266.1,1146.7 L266.6,1146.6 L267.1,1146.0 L267.6,1144.9 L268.1,1143.3 L268.6,1141.4 L269.1,1139.0 L269.6,1136.3 L270.1,1133.3 L270.6,1130.1 L271.1,1126.7 L271.6,1123.1 L272.1,1119.3 L272.6,1115.5 L273.1,1111.6 L273.6,1107.8 L274.1,1104.0 L274.6,1100.2 L275.1,1096.6 L275.6,1093.2 L276.1,1090.0 L276.6,1087.0 L277.1,1084.3 L277.6,1081.9 L278.1,1080.0 L278.6,1078.4 L279.1,1077.3 L279.6,1076.7 L280.1,1076.6 L280.6,1077.1 L281.1,1078.0 L281.6,1079.3 L282.1,1081.0 L282.6,1083.0 L283.1,1085.3 L283.6,1088.0 L284.1,1090.8 L284.6,1093.9 L285.1,1097.2 L285.6,1100.6 L286.1,1104.1 L286.6,1107.7 L287.1,1111.3 L287.6,1114.9 L288.1,1118.5 L288.6,1122.0 L289.1,1125.4 L289.6,1128.7 L290.1,1131.9 L290.6,1134.8 L291.1,1137.5 L291.6,1139.9 L292.1,1142.0 L292.6,1143.7 L293.1,1145.1 L293.6,1146.1 L294.1,1146.6 L294.6,1146.7 L295.1,1146.7 L295.6,1146.7 L296.1,1146.7 L296.6,1146.7 L297.1,1146.7 L297.6,1146.7 L298.1,1146.7 L298.6,1146.7 L299.1,1146.7 L299.6,1146.5 L300.1,1145.8 L300.6,1144.6 L301.1,1143.0 L301.6,1140.9 L302.1,1138.5 L302.6,1135.7 L303.1,1132.7 L303.6,1129.3 L304.1,1125.8 L304.6,1122.1 L305.1,1118.2 L305.6,1114.3 L306.1,1110.2 L306.6,1106.2 L307.1,1102.1 L307.6,1098.2 L308.1,1094.3 L308.6,1090.5 L309.1,1086.9 L309.6,1083.6 L310.1,1080.5 L310.6,1077.6 L311.1,1075.1 L311.6,1073.0 L312.1,1071.3 L312.6,1070.0 L313.1,1069.2 L313.6,1068.9 L314.1,1069.2 L314.6,1070.2 L315.1,1071.8 L315.6,1073.9 L316.1,1076.5 L316.6,1079.6 L317.1,1083.0 L317.6,1086.7 L318.1,1090.7 L318.6,1094.9 L319.1,1099.3 L319.6,1103.7 L320.1,1108.3 L320.6,1112.8 L321.1,1117.2 L321.6,1121.6 L322.1,1125.7 L322.6,1129.7 L323.1,1133.3 L323.6,1136.7 L324.1,1139.6 L324.6,1142.1 L325.1,1144.1 L325.6,1145.6 L326.1,1146.5 L326.6,1146.7 L327.1,1146.7 L327.6,1146.7 L328.1,1146.7 L328.6,1146.7 L329.1,1146.7 L329.6,1146.7 L330.1,1146.7 L330.6,1146.7 L331.1,1146.7 L331.6,1146.7 L332.1,1146.7 L332.6,1146.7 L333.1,1146.7 L333.6,1146.7 L334.1,1146.7 L334.6,1146.7 L335.1,1146.7 L335.6,1146.7 L336.1,1146.7 L336.6,1146.6 L337.1,1146.2 L337.6,1145.7 L338.1,1145.0 L338.6,1144.2 L339.1,1143.2 L339.6,1142.1 L340.1,1140.9 L340.6,1139.7 L341.1,1138.4 L341.6,1137.1 L342.1,1135.8 L342.6,1134.5 L343.1,1133.3 L343.6,1132.2 L344.1,1131.1 L344.6,1130.2 L345.1,1129.4 L345.6,1128.7 L346.1,1128.3 L346.6,1128.0 L347.1,1128.0 L347.6,1128.3 L348.1,1128.7 L348.6,1129.4 L349.1,1130.3 L349.6,1131.3 L350.1,1132.4 L350.6,1133.7 L351.1,1135.0 L351.6,1136.4 L352.1,1137.8 L352.6,1139.1 L353.1,1140.5 L353.6,1141.8 L354.1,1143.0 L354.6,1144.0 L355.1,1145.0 L355.6,1145.7 L356.1,1146.3 L356.6,1146.6 L357.1,1146.7 L357.6,1146.7 L358.1,1146.7 L358.6,1146.7 L359.1,1146.7 L359.6,1146.7 L360.1,1146.7 L360.6,1146.7 L361.1,1146.7 L361.6,1146.7 L362.1,1146.7 L362.6,1146.7 L363.1,1146.7 L363.6,1146.7 L364.1,1146.7 L364.6,1146.7 L365.1,1146.7 L365.6,1146.7 L366.1,1146.7 L366.6,1146.7 L367.1,1146.4 L367.6,1145.9 L368.1,1145.3 L368.6,1144.5 L369.1,1143.5 L369.6,1142.5 L370.1,1141.3 L370.6,1140.1 L371.1,1138.8 L371.6,1137.5 L372.1,1136.2 L372.6,1134.9 L373.1,1133.6 L373.6,1132.5 L374.1,1131.4 L374.6,1130.4 L375.1,1129.6 L375.6,1128.9 L376.1,1128.4 L376.6,1128.1 L377.1,1128.0 L377.6,1128.2 L378.1,1128.6 L378.6,1129.3 L379.1,1130.1 L379.6,1131.1 L380.1,1132.2 L380.6,1133.4 L381.1,1134.7 L381.6,1136.1 L382.1,1137.5 L382.6,1138.9 L383.1,1140.2 L383.6,1141.5 L384.1,1142.7 L384.6,1143.8 L385.1,1144.8 L385.6,1145.6 L386.1,1146.2 L386.6,1146.6 L387.1,1146.7 L387.6,1146.7 L388.1,1146.7 L388.6,1146.7 L389.1,1146.7 L389.6,1146.7 L390.1,1146.7 L390.6,1146.7 L391.1,1146.7 L391.6,1146.7 L392.1,1146.7 L392.6,1146.7 L393.1,1146.7 L393.6,1146.7 L394.1,1146.7 L394.6,1146.7 L395.1,1146.7 L395.6,1146.7 L396.1,1146.7 L396.6,1146.7 L397.1,1146.7 L397.6,1146.7 L398.1,1146.7 L398.6,1146.7 L399.1,1146.7 L399.6,1146.7 L400.1,1146.7 L400.6,1146.7 L401.1,1146.7 L401.6,1146.7 L402.1,1146.7 L402.6,1146.7 L403.1,1146.7 L403.6,1146.7 L404.1,1146.7 L404.6,1146.7 L405.1,1146.7 L405.6,1146.7 L406.1,1146.7 L406.6,1146.7 L407.1,1146.7 L407.6,1146.7 L408.1,1146.7 L408.6,1146.7 L409.1,1146.7 L409.6,1146.7 L410.1,1146.7 L410.6,1146.7 L411.1,1146.7 L411.6,1146.7 L412.1,1146.7 L412.6,1146.7 L413.1,1146.7 L413.6,1146.7 L414.1,1146.7 L414.6,1146.7 L415.1,1146.7 L415.6,1146.7 L416.1,1146.7 L416.6,1146.7 L417.1,1146.7 L417.6,1146.7 L418.1,1146.7 L418.6,1146.7 L419.1,1146.7 L419.6,1146.7 L420.1,1146.7 L420.6,1146.7 L421.1,1146.7 L421.6,1146.7 L422.1,1146.7 L422.6,1146.7 L423.1,1146.7 L423.6,1146.7 L424.1,1146.7 L424.6,1146.7 L425.1,1146.7 L425.6,1146.7 L426.1,1146.7 L426.6,1146.7 L427.1,1146.7 L427.6,1146.7 L428.1,1146.7 L428.6,1146.7 L429.1,1146.7 L429.6,1146.7 L430.1,1146.7 L430.6,1146.7 L431.1,1146.7 L431.6,1146.7 L432.1,1146.7 L432.6,1146.7 L433.1,1146.7 L433.6,1146.7 L434.1,1146.7 L434.6,1146.7 L435.1,1146.7 L435.6,1146.7 L436.1,1146.7 L436.6,1146.7 L437.1,1146.7 L437.6,1146.7 L438.1,1146.7 L438.6,1146.7 L439.1,1146.7 L439.6,1146.7 L440.1,1146.7 L440.6,1146.7 L441.1,1146.7 L441.6,1146.7 L442.1,1146.7 L442.6,1146.7 L443.1,1146.7 L443.6,1146.7 L444.1,1146.7 L444.6,1146.7 L445.1,1146.7 L445.6,1146.7 L446.1,1146.7 L446.6,1146.7 L447.1,1146.7 L447.6,1146.7 L448.1,1146.7 L448.6,1146.7 L449.1,1146.7 L449.6,1146.7 L450.1,1146.7 L450.6,1146.7 L451.1,1146.7 L451.6,1146.7 L452.1,1146.7 L452.6,1146.7 L453.1,1146.7 L453.6,1146.7 L454.1,1146.7 L454.6,1146.7 L455.1,1146.7 L455.6,1146.7 L456.1,1146.7 L456.6,1146.7 L457.1,1146.7 L457.6,1146.7 L458.1,1146.7 L458.6,1146.7 L459.1,1146.7 L459.6,1146.7 L460.1,1146.7 L460.6,1146.7 L461.1,1146.7 L461.6,1146.7" stroke="#3aaa3f"/>
<path d="M251.1,1143.7 L251.6,1141.7 L252.1,1139.3 L252.6,1136.5 L253.1,1133.3 L253.6,1129.8 L254.1,1126.1 L254.6,1122.1 L255.1,1118.0 L255.6,1113.8 L256.1,1109.4 L256.6,1105.1 L257.1,1100.8 L257.6,1096.5 L258.1,1092.3 L258.6,1088.3 L259.1,1084.5 L259.6,1080.9 L260.1,1077.6 L260.6,1074.6 L261.1,1072.0 L261.6,1069.8 L262.1,1068.1 L262.6,1066.9 L263.1,1066.2 L263.6,1066.2 L264.1,1066.9 L264.6,1068.3 L265.1,1070.4 L265.6,1073.1 L266.1,1076.3 L266.6,1080.0 L267.1,1084.1 L267.6,1088.5 L268.1,1093.1 L268.6,1098.0 L269.1,1102.9 L269.6,1107.9 L270.1,1112.9 L270.6,1117.8 L271.1,1122.5 L271.6,1127.0 L272.1,1131.2 L272.6,1135.0 L273.1,1138.4 L273.6,1141.4 L274.1,1143.7 L274.6,1145.4 L275.1,1146.4 L275.6,1146.7 L276.1,1146.7 L276.6,1146.7 L277.1,1146.7 L277.6,1146.7 L278.1,1146.7 L278.6,1146.7 L279.1,1146.7 L279.6,1146.7 L280.1,1146.7 L280.6,1146.7 L281.1,1146.7 L281.6,1146.7 L282.1,1146.7 L282.6,1146.7 L283.1,1146.7 L283.6,1146.7 L284.1,1146.2 L284.6,1145.1 L285.1,1143.4 L285.6,1141.2 L286.1,1138.5 L286.6,1135.3 L287.1,1131.8 L287.6,1128.0 L288.1,1123.9 L288.6,1119.6 L289.1,1115.1 L289.6,1110.6 L290.1,1105.9 L290.6,1101.3 L291.1,1096.7 L291.6,1092.2 L292.1,1087.8 L292.6,1083.7 L293.1,1079.8 L293.6,1076.2 L294.1,1073.0 L294.6,1070.2 L295.1,1067.9 L295.6,1066.1 L296.1,1064.9 L296.6,1064.3 L297.1,1064.4 L297.6,1065.3 L298.1,1067.0 L298.6,1069.5 L299.1,1072.5 L299.6,1076.1 L300.1,1080.2 L300.6,1084.7 L301.1,1089.4 L301.6,1094.5 L302.1,1099.6 L302.6,1104.9 L303.1,1110.2 L303.6,1115.4 L304.1,1120.5 L304.6,1125.3 L305.1,1129.8 L305.6,1134.0 L306.1,1137.7 L306.6,1140.9 L307.1,1143.4 L307.6,1145.3 L308.1,1146.4 L308.6,1146.7 L309.1,1146.7 L309.6,1146.7 L310.1,1146.7 L310.6,1146.7 L311.1,1146.7 L311.6,1146.7 L312.1,1146.7 L312.6,1146.7 L313.1,1146.7 L313.6,1146.7 L314.1,1146.7 L314.6,1146.7 L315.1,1146.7 L315.6,1146.7 L316.1,1146.7 L316.6,1146.7 L317.1,1146.2 L317.6,1145.2 L318.1,1143.6 L318.6,1141.4 L319.1,1138.8 L319.6,1135.8 L320.1,1132.4 L320.6,1128.7 L321.1,1124.7 L321.6,1120.5 L322.1,1116.0 L322.6,1111.5 L323.1,1106.8 L323.6,1102.1 L324.1,1097.3 L324.6,1092.7 L325.1,1088.1 L325.6,1083.6 L326.1,1079.3 L326.6,1075.3 L327.1,1071.5 L327.6,1068.0 L328.1,1064.9 L328.6,1062.2 L329.1,1060.0 L329.6,1058.3 L330.1,1057.1 L330.6,1056.6 L331.1,1056.7 L331.6,1058.1 L332.1,1060.6 L332.6,1064.0 L333.1,1068.2 L333.6,1073.2 L334.1,1078.7 L334.6,1084.6 L335.1,1090.7 L335.6,1097.1 L336.1,1103.4 L336.6,1109.5 L337.1,1115.4 L337.6,1120.9 L338.1,1125.9 L338.6,1130.1 L339.1,1133.5 L339.6,1136.0 L340.1,1137.4 L340.6,1137.5 L341.1,1136.5 L341.6,1134.6 L342.1,1131.9 L342.6,1128.5 L343.1,1124.6 L343.6,1120.3 L344.1,1115.7 L344.6,1111.1 L345.1,1106.4 L345.6,1102.0 L346.1,1097.9 L346.6,1094.3 L347.1,1091.3 L347.6,1089.0 L348.1,1087.7 L348.6,1087.3 L349.1,1087.9 L349.6,1089.1 L350.1,1090.9 L350.6,1093.2 L351.1,1095.9 L351.6,1098.9 L352.1,1102.1 L352.6,1105.4 L353.1,1108.6 L353.6,1111.8 L354.1,1114.7 L354.6,1117.4 L355.1,1119.6 L355.6,1121.3 L356.1,1122.4 L356.6,1122.8 L357.1,1122.3 L357.6,1120.9 L358.1,1118.7 L358.6,1115.7 L359.1,1112.2 L359.6,1108.2 L360.1,1103.9 L360.6,1099.3 L361.1,1094.6 L361.6,1089.9 L362.1,1085.2 L362.6,1080.8 L363.1,1076.6 L363.6,1072.9 L364.1,1069.7 L364.6,1067.2 L365.1,1065.5 L365.6,1064.6 L366.1,1064.7 L366.6,1066.1 L367.1,1068.7 L367.6,1072.1 L368.1,1076.4 L368.6,1081.3 L369.1,1086.8 L369.6,1092.5 L370.1,1098.5 L370.6,1104.5 L371.1,1110.3 L371.6,1115.9 L372.1,1121.1 L372.6,1125.6 L373.1,1129.5 L373.6,1132.4 L374.1,1134.2 L374.6,1134.9 L375.1,1134.2 L375.6,1132.3 L376.1,1129.3 L376.6,1125.4 L377.1,1120.9 L377.6,1115.9 L378.1,1110.7 L378.6,1105.4 L379.1,1100.1 L379.6,1095.2 L380.1,1090.8 L380.6,1087.1 L381.1,1084.3 L381.6,1082.6 L382.1,1082.2 L382.6,1082.6 L383.1,1083.6 L383.6,1085.1 L384.1,1086.9 L384.6,1089.1 L385.1,1091.5 L385.6,1094.1 L386.1,1096.8 L386.6,1099.5 L387.1,1102.1 L387.6,1104.5 L388.1,1106.7 L388.6,1108.7 L389.1,1110.2 L389.6,1111.3 L390.1,1111.8 L390.6,1111.8 L391.1,1111.1 L391.6,1109.8 L392.1,1108.0 L392.6,1105.8 L393.1,1103.3 L393.6,1100.4 L394.1,1097.4 L394.6,1094.2 L395.1,1091.0 L395.6,1087.8 L396.1,1084.7 L396.6,1081.7 L397.1,1079.0 L397.6,1076.6 L398.1,1074.5 L398.6,1072.9 L399.1,1071.9 L399.6,1071.4 L400.1,1071.7 L400.6,1072.8 L401.1,1074.7 L401.6,1077.2 L402.1,1080.2 L402.6,1083.7 L403.1,1087.4 L403.6,1091.4 L404.1,1095.5 L404.6,1099.6 L405.1,1103.6 L405.6,1107.3 L406.1,1110.8 L406.6,1113.8 L407.1,1116.3 L407.6,1118.2 L408.1,1119.3 L408.6,1119.6 L409.1,1118.9 L409.6,1117.4 L410.1,1115.1 L410.6,1112.2 L411.1,1108.7 L411.6,1104.9 L412.1,1100.8 L412.6,1096.5 L413.1,1092.1 L413.6,1087.8 L414.1,1083.7 L414.6,1079.9 L415.1,1076.4 L415.6,1073.5 L416.1,1071.2 L416.6,1069.7 L417.1,1069.0 L417.6,1069.4 L418.1,1070.7 L418.6,1073.0 L419.1,1076.1 L419.6,1079.8 L420.1,1083.9 L420.6,1088.3 L421.1,1093.0 L421.6,1097.6 L422.1,1102.2 L422.6,1106.4 L423.1,1110.3 L423.6,1113.6 L424.1,1116.2 L424.6,1118.0 L425.1,1118.8 L425.6,1118.4 L426.1,1116.9 L426.6,1114.4 L427.1,1111.0 L427.6,1107.0 L428.1,1102.4 L428.6,1097.5 L429.1,1092.3 L429.6,1087.1 L430.1,1082.0 L430.6,1077.1 L431.1,1072.7 L431.6,1068.7 L432.1,1065.6 L432.6,1063.2 L433.1,1061.9 L433.6,1061.8 L434.1,1062.8 L434.6,1064.9 L435.1,1067.9 L435.6,1071.5 L436.1,1075.8 L436.6,1080.5 L437.1,1085.4 L437.6,1090.5 L438.1,1095.6 L438.6,1100.5 L439.1,1105.1 L439.6,1109.3 L440.1,1112.8 L440.6,1115.6 L441.1,1117.5 L441.6,1118.3 L442.1,1117.9 L442.6,1116.5 L443.1,1114.1 L443.6,1111.0 L444.1,1107.2 L444.6,1102.8 L445.1,1098.1 L445.6,1093.2 L446.1,1088.2 L446.6,1083.2 L447.1,1078.5 L447.6,1074.1 L448.1,1070.1 L448.6,1066.8 L449.1,1064.3 L449.6,1062.7 L450.1,1062.1 L450.6,1062.5 L451.1,1063.6 L451.6,1065.3 L452.1,1067.6 L452.6,1070.4 L453.1,1073.7 L453.6,1077.3 L454.1,1081.2 L454.6,1085.3 L455.1,1089.5 L455.6,1093.8 L456.1,1098.1 L456.6,1102.4 L457.1,1106.5 L457.6,1110.4 L458.1,1114.1 L458.6,1117.3 L459.1,1120.2 L459.6,1122.9 L460.1,1125.6 L460.6,1128.1 L461.1,1130.6 L461.6,1133.1" stroke="#e8213f"/>
</g>
<rect x="253.1" y="1029.6" width="206.8" height="117.0" fill="none" stroke="#404040" stroke-width="1.25"/>
<rect x="260.40" y="1032.60" width="3.8" height="5.3" fill="#fff" stroke="#d0d0d0" stroke-width="0.5"/>
<rect x="260.40" y="1032.60" width="3.8" height="5.30" fill="#e92743"/>
<text x="262.30" y="1046.70" font-size="7.8" font-weight="bold" text-anchor="middle" fill="#e92743" style="font-family:'Liberation Mono',monospace">T</text>
<rect x="277.47" y="1032.60" width="3.8" height="5.3" fill="#fff" stroke="#d0d0d0" stroke-width="0.5"/>
<rect x="277.47" y="1032.60" width="3.8" height="5.30" fill="#3cac43"/>
<text x="279.37" y="1046.70" font-size="7.8" font-weight="bold" text-anchor="middle" fill="#3cac43" style="font-family:'Liberation Mono',monospace">A</text>
<rect x="294.54" y="1032.60" width="3.8" height="5.3" fill="#fff" stroke="#d0d0d0" stroke-width="0.5"/>
<rect x="294.54" y="1035.25" width="3.8" height="2.65" fill="#e92743"/>
<text x="296.44" y="1046.70" font-size="7.8" font-weight="bold" text-anchor="middle" fill="#e92743" style="font-family:'Liberation Mono',monospace">T</text>
<rect x="311.61" y="1032.60" width="3.8" height="5.3" fill="#fff" stroke="#d0d0d0" stroke-width="0.5"/>
<rect x="311.61" y="1035.25" width="3.8" height="2.65" fill="#3cac43"/>
<text x="313.51" y="1046.70" font-size="7.8" font-weight="bold" text-anchor="middle" fill="#3cac43" style="font-family:'Liberation Mono',monospace">A</text>
<rect x="328.68" y="1032.60" width="3.8" height="5.3" fill="#fff" stroke="#d0d0d0" stroke-width="0.5"/>
<rect x="328.68" y="1036.05" width="3.8" height="1.85" fill="#e92743"/>
<text x="330.58" y="1046.70" font-size="7.8" font-weight="bold" text-anchor="middle" fill="#e92743" style="font-family:'Liberation Mono',monospace">T</text>
<rect x="345.75" y="1032.60" width="3.8" height="5.3" fill="#fff" stroke="#d0d0d0" stroke-width="0.5"/>
<rect x="345.75" y="1036.05" width="3.8" height="1.85" fill="#e92743"/>
<text x="347.65" y="1046.70" font-size="7.8" font-weight="bold" text-anchor="middle" fill="#e92743" style="font-family:'Liberation Mono',monospace">T</text>
<rect x="362.82" y="1032.60" width="3.8" height="5.3" fill="#fff" stroke="#d0d0d0" stroke-width="0.5"/>
<rect x="362.82" y="1036.05" width="3.8" height="1.85" fill="#e92743"/>
<text x="364.72" y="1046.70" font-size="7.8" font-weight="bold" text-anchor="middle" fill="#e92743" style="font-family:'Liberation Mono',monospace">T</text>
<rect x="379.89" y="1032.60" width="3.8" height="5.3" fill="#fff" stroke="#d0d0d0" stroke-width="0.5"/>
<rect x="379.89" y="1036.05" width="3.8" height="1.85" fill="#e92743"/>
<text x="381.79" y="1046.70" font-size="7.8" font-weight="bold" text-anchor="middle" fill="#e92743" style="font-family:'Liberation Mono',monospace">T</text>
<rect x="396.96" y="1032.60" width="3.8" height="5.3" fill="#fff" stroke="#d0d0d0" stroke-width="0.5"/>
<rect x="396.96" y="1036.05" width="3.8" height="1.85" fill="#e92743"/>
<text x="398.86" y="1046.70" font-size="7.8" font-weight="bold" text-anchor="middle" fill="#e92743" style="font-family:'Liberation Mono',monospace">T</text>
<rect x="414.03" y="1032.60" width="3.8" height="5.3" fill="#fff" stroke="#d0d0d0" stroke-width="0.5"/>
<rect x="414.03" y="1036.05" width="3.8" height="1.85" fill="#e92743"/>
<text x="415.93" y="1046.70" font-size="7.8" font-weight="bold" text-anchor="middle" fill="#e92743" style="font-family:'Liberation Mono',monospace">T</text>
<rect x="431.10" y="1032.60" width="3.8" height="5.3" fill="#fff" stroke="#d0d0d0" stroke-width="0.5"/>
<rect x="431.10" y="1032.60" width="3.8" height="5.30" fill="#e92743"/>
<text x="433.00" y="1046.70" font-size="7.8" font-weight="bold" text-anchor="middle" fill="#e92743" style="font-family:'Liberation Mono',monospace">T</text>
<rect x="448.17" y="1032.60" width="3.8" height="5.3" fill="#fff" stroke="#d0d0d0" stroke-width="0.5"/>
<rect x="448.17" y="1032.60" width="3.8" height="5.30" fill="#e92743"/>
<text x="450.07" y="1046.70" font-size="7.8" font-weight="bold" text-anchor="middle" fill="#e92743" style="font-family:'Liberation Mono',monospace">T</text>
<text x="347.50" y="1064.70" font-size="14.5" text-anchor="middle" fill="#333">*</text>
<text x="382.60" y="1064.70" font-size="14.5" text-anchor="middle" fill="#333">*</text>
<text x="469.10" y="1020.40" font-size="14.6" fill="#1a1a1a" textLength="110.80" lengthAdjust="spacingAndGlyphs">3C ICR1-CTCF Up</text>
<clipPath id="cp2"><rect x="468.3" y="1029.6" width="206.6" height="117.0"/></clipPath>
<g clip-path="url(#cp2)" fill="none" stroke-width="0.95" stroke-linejoin="round">
<path d="M466.3,1146.7 L466.8,1146.7 L467.3,1146.7 L467.8,1146.7 L468.3,1146.7 L468.8,1146.7 L469.3,1146.7 L469.8,1146.7 L470.3,1146.7 L470.8,1146.7 L471.3,1146.7 L471.8,1146.7 L472.3,1146.7 L472.8,1146.7 L473.3,1146.7 L473.8,1146.7 L474.3,1146.7 L474.8,1146.7 L475.3,1146.7 L475.8,1146.7 L476.3,1146.7 L476.8,1146.7 L477.3,1146.7 L477.8,1146.7 L478.3,1146.7 L478.8,1146.7 L479.3,1146.7 L479.8,1146.7 L480.3,1146.7 L480.8,1146.7 L481.3,1146.7 L481.8,1146.7 L482.3,1146.7 L482.8,1146.7 L483.3,1146.7 L483.8,1146.7 L484.3,1146.7 L484.8,1146.7 L485.3,1146.7 L485.8,1146.7 L486.3,1146.7 L486.8,1146.7 L487.3,1146.7 L487.8,1146.7 L488.3,1146.7 L488.8,1146.7 L489.3,1146.7 L489.8,1146.7 L490.3,1146.7 L490.8,1146.7 L491.3,1146.7 L491.8,1146.7 L492.3,1146.7 L492.8,1146.7 L493.3,1146.7 L493.8,1146.7 L494.3,1146.7 L494.8,1146.7 L495.3,1146.7 L495.8,1146.7 L496.3,1146.7 L496.8,1146.7 L497.3,1146.6 L497.8,1146.3 L498.3,1146.0 L498.8,1145.7 L499.3,1145.2 L499.8,1144.7 L500.3,1144.1 L500.8,1143.5 L501.3,1142.9 L501.8,1142.3 L502.3,1141.6 L502.8,1141.0 L503.3,1140.3 L503.8,1139.7 L504.3,1139.1 L504.8,1138.6 L505.3,1138.1 L505.8,1137.7 L506.3,1137.3 L506.8,1137.1 L507.3,1136.9 L507.8,1136.8 L508.3,1136.8 L508.8,1136.8 L509.3,1136.7 L509.8,1136.7 L510.3,1136.7 L510.8,1136.7 L511.3,1136.7 L511.8,1136.7 L512.3,1136.7 L512.8,1136.7 L513.3,1136.7 L513.8,1136.7 L514.3,1136.7 L514.8,1136.7 L515.3,1136.7 L515.8,1136.7 L516.3,1136.6 L516.8,1136.6 L517.3,1136.6 L517.8,1136.6 L518.3,1136.6 L518.8,1136.6 L519.3,1136.6 L519.8,1136.6 L520.3,1136.6 L520.8,1136.6 L521.3,1136.6 L521.8,1136.6 L522.3,1136.6 L522.8,1136.5 L523.3,1136.5 L523.8,1136.5 L524.3,1136.4 L524.8,1136.3 L525.3,1136.2 L525.8,1136.0 L526.3,1135.7 L526.8,1135.4 L527.3,1135.1 L527.8,1134.8 L528.3,1134.4 L528.8,1134.1 L529.3,1133.8 L529.8,1133.4 L530.3,1133.1 L530.8,1132.8 L531.3,1132.6 L531.8,1132.4 L532.3,1132.2 L532.8,1132.1 L533.3,1132.0 L533.8,1132.0 L534.3,1132.0 L534.8,1132.1 L535.3,1132.2 L535.8,1132.3 L536.3,1132.4 L536.8,1132.5 L537.3,1132.7 L537.8,1132.8 L538.3,1133.0 L538.8,1133.2 L539.3,1133.4 L539.8,1133.6 L540.3,1133.8 L540.8,1134.1 L541.3,1134.3 L541.8,1134.6 L542.3,1134.8 L542.8,1135.1 L543.3,1135.3 L543.8,1135.5 L544.3,1135.8 L544.8,1136.0 L545.3,1136.3 L545.8,1136.5 L546.3,1136.7 L546.8,1137.0 L547.3,1137.2 L547.8,1137.4 L548.3,1137.5 L548.8,1137.7 L549.3,1137.9 L549.8,1138.0 L550.3,1138.1 L550.8,1138.2 L551.3,1138.3 L551.8,1138.4 L552.3,1138.4 L552.8,1138.4 L553.3,1138.4 L553.8,1138.3 L554.3,1138.2 L554.8,1138.0 L555.3,1137.8 L555.8,1137.6 L556.3,1137.4 L556.8,1137.2 L557.3,1136.9 L557.8,1136.7 L558.3,1136.4 L558.8,1136.2 L559.3,1136.0 L559.8,1135.8 L560.3,1135.6 L560.8,1135.4 L561.3,1135.3 L561.8,1135.2 L562.3,1135.2 L562.8,1135.2 L563.3,1135.3 L563.8,1135.4 L564.3,1135.5 L564.8,1135.6 L565.3,1135.8 L565.8,1136.0 L566.3,1136.1 L566.8,1136.3 L567.3,1136.5 L567.8,1136.7 L568.3,1136.9 L568.8,1137.0 L569.3,1137.1 L569.8,1137.2 L570.3,1137.3 L570.8,1137.3 L571.3,1137.3 L571.8,1137.2 L572.3,1137.1 L572.8,1136.9 L573.3,1136.8 L573.8,1136.6 L574.3,1136.4 L574.8,1136.2 L575.3,1136.0 L575.8,1135.8 L576.3,1135.6 L576.8,1135.5 L577.3,1135.3 L577.8,1135.2 L578.3,1135.2 L578.8,1135.2 L579.3,1135.3 L579.8,1135.3 L580.3,1135.5 L580.8,1135.6 L581.3,1135.8 L581.8,1136.1 L582.3,1136.3 L582.8,1136.6 L583.3,1136.9 L583.8,1137.3 L584.3,1137.6 L584.8,1138.0 L585.3,1138.4 L585.8,1138.8 L586.3,1139.2 L586.8,1139.6 L587.3,1140.1 L587.8,1140.5 L588.3,1141.0 L588.8,1141.4 L589.3,1141.8 L589.8,1142.3 L590.3,1142.7 L590.8,1143.1 L591.3,1143.5 L591.8,1143.9 L592.3,1144.3 L592.8,1144.6 L593.3,1145.0 L593.8,1145.3 L594.3,1145.6 L594.8,1145.8 L595.3,1146.1 L595.8,1146.3 L596.3,1146.4 L596.8,1146.6 L597.3,1146.6 L597.8,1146.7 L598.3,1146.7 L598.8,1146.7 L599.3,1146.7 L599.8,1146.7 L600.3,1146.7 L600.8,1146.7 L601.3,1146.7 L601.8,1146.7 L602.3,1146.7 L602.8,1146.7 L603.3,1146.7 L603.8,1146.7 L604.3,1146.7 L604.8,1146.7 L605.3,1146.7 L605.8,1146.7 L606.3,1146.7 L606.8,1146.7 L607.3,1146.7 L607.8,1146.7 L608.3,1146.7 L608.8,1146.7 L609.3,1146.7 L609.8,1146.7 L610.3,1146.7 L610.8,1146.7 L611.3,1146.7 L611.8,1146.7 L612.3,1146.7 L612.8,1146.7 L613.3,1146.7 L613.8,1146.7 L614.3,1146.7 L614.8,1146.7 L615.3,1146.7 L615.8,1146.7 L616.3,1146.7 L616.8,1146.7 L617.3,1146.7 L617.8,1146.7 L618.3,1146.7 L618.8,1146.7 L619.3,1146.7 L619.8,1146.7 L620.3,1146.7 L620.8,1146.7 L621.3,1146.7 L621.8,1146.7 L622.3,1146.7 L622.8,1146.7 L623.3,1146.7 L623.8,1146.7 L624.3,1146.7 L624.8,1146.7 L625.3,1146.7 L625.8,1146.7 L626.3,1146.7 L626.8,1146.7 L627.3,1146.7 L627.8,1146.7 L628.3,1146.7 L628.8,1146.7 L629.3,1146.7 L629.8,1146.7 L630.3,1146.7 L630.8,1146.7 L631.3,1146.7 L631.8,1146.7 L632.3,1146.7 L632.8,1146.7 L633.3,1146.7 L633.8,1146.7 L634.3,1146.7 L634.8,1146.7 L635.3,1146.7 L635.8,1146.7 L636.3,1146.7 L636.8,1146.7 L637.3,1146.7 L637.8,1146.7 L638.3,1146.7 L638.8,1146.7 L639.3,1146.7 L639.8,1146.7 L640.3,1146.7 L640.8,1146.7 L641.3,1146.7 L641.8,1146.7 L642.3,1146.7 L642.8,1146.7 L643.3,1146.7 L643.8,1146.7 L644.3,1146.7 L644.8,1146.7 L645.3,1146.7 L645.8,1146.7 L646.3,1146.7 L646.8,1146.7 L647.3,1146.7 L647.8,1146.7 L648.3,1146.7 L648.8,1146.7 L649.3,1146.7 L649.8,1146.7 L650.3,1146.7 L650.8,1146.7 L651.3,1146.7 L651.8,1146.7 L652.3,1146.7 L652.8,1146.7 L653.3,1146.7 L653.8,1146.7 L654.3,1146.7 L654.8,1146.7 L655.3,1146.7 L655.8,1146.7 L656.3,1146.7 L656.8,1146.7 L657.3,1146.7 L657.8,1146.7 L658.3,1146.7 L658.8,1146.7 L659.3,1146.7 L659.8,1146.7 L660.3,1146.7 L660.8,1146.7 L661.3,1146.7 L661.8,1146.7 L662.3,1146.7 L662.8,1146.7 L663.3,1146.7 L663.8,1146.7 L664.3,1146.7 L664.8,1146.7 L665.3,1146.7 L665.8,1146.7 L666.3,1146.7 L666.8,1146.7 L667.3,1146.7 L667.8,1146.7 L668.3,1146.7 L668.8,1146.7 L669.3,1146.7 L669.8,1146.7 L670.3,1146.7 L670.8,1146.7 L671.3,1146.7 L671.8,1146.7 L672.3,1146.7 L672.8,1146.7 L673.3,1146.7 L673.8,1146.7 L674.3,1146.7 L674.8,1146.7 L675.3,1146.7 L675.8,1146.7 L676.3,1146.7 L676.8,1146.7" stroke="#2b2b2b" stroke-width="0.9"/>
<path d="M466.3,1144.8 L466.8,1144.8 L467.3,1144.8 L467.8,1144.8 L468.3,1144.8 L468.8,1144.8 L469.3,1144.8 L469.8,1144.9 L470.3,1145.0 L470.8,1145.0 L471.3,1145.1 L471.8,1145.3 L472.3,1145.4 L472.8,1145.5 L473.3,1145.6 L473.8,1145.8 L474.3,1145.9 L474.8,1146.0 L475.3,1146.2 L475.8,1146.3 L476.3,1146.4 L476.8,1146.5 L477.3,1146.6 L477.8,1146.6 L478.3,1146.7 L478.8,1146.7 L479.3,1146.7 L479.8,1146.7 L480.3,1146.7 L480.8,1146.7 L481.3,1146.7 L481.8,1146.7 L482.3,1146.7 L482.8,1146.7 L483.3,1146.7 L483.8,1146.7 L484.3,1146.7 L484.8,1146.7 L485.3,1146.7 L485.8,1146.7 L486.3,1146.7 L486.8,1146.7 L487.3,1146.7 L487.8,1146.7 L488.3,1146.7 L488.8,1146.7 L489.3,1146.7 L489.8,1146.7 L490.3,1146.7 L490.8,1146.7 L491.3,1146.7 L491.8,1146.7 L492.3,1146.5 L492.8,1146.2 L493.3,1145.7 L493.8,1145.2 L494.3,1144.8 L494.8,1144.6 L495.3,1144.7 L495.8,1145.0 L496.3,1145.4 L496.8,1146.0 L497.3,1146.4 L497.8,1146.7 L498.3,1146.7 L498.8,1146.7 L499.3,1146.7 L499.8,1146.7 L500.3,1146.7 L500.8,1146.7 L501.3,1146.7 L501.8,1146.7 L502.3,1146.7 L502.8,1146.7 L503.3,1146.7 L503.8,1146.7 L504.3,1146.7 L504.8,1146.7 L505.3,1146.7 L505.8,1146.7 L506.3,1146.7 L506.8,1146.7 L507.3,1146.7 L507.8,1146.7 L508.3,1146.7 L508.8,1146.7 L509.3,1146.7 L509.8,1146.7 L510.3,1146.7 L510.8,1146.7 L511.3,1146.7 L511.8,1146.7 L512.3,1146.7 L512.8,1146.7 L513.3,1146.7 L513.8,1146.7 L514.3,1146.7 L514.8,1146.7 L515.3,1146.7 L515.8,1146.7 L516.3,1146.7 L516.8,1146.7 L517.3,1146.7 L517.8,1146.7 L518.3,1146.7 L518.8,1146.7 L519.3,1146.7 L519.8,1146.7 L520.3,1146.7 L520.8,1146.7 L521.3,1146.7 L521.8,1146.7 L522.3,1146.7 L522.8,1146.7 L523.3,1146.7 L523.8,1146.7 L524.3,1146.7 L524.8,1146.7 L525.3,1146.7 L525.8,1146.7 L526.3,1146.7 L526.8,1146.7 L527.3,1146.7 L527.8,1146.7 L528.3,1146.7 L528.8,1146.7 L529.3,1146.7 L529.8,1146.7 L530.3,1146.7 L530.8,1146.7 L531.3,1146.7 L531.8,1146.7 L532.3,1146.7 L532.8,1146.7 L533.3,1146.7 L533.8,1146.7 L534.3,1146.7 L534.8,1146.7 L535.3,1146.7 L535.8,1146.7 L536.3,1146.7 L536.8,1146.7 L537.3,1146.7 L537.8,1146.7 L538.3,1146.7 L538.8,1146.7 L539.3,1146.7 L539.8,1146.7 L540.3,1146.7 L540.8,1146.7 L541.3,1146.7 L541.8,1146.7 L542.3,1146.7 L542.8,1146.7 L543.3,1146.7 L543.8,1146.7 L544.3,1146.7 L544.8,1146.7 L545.3,1146.7 L545.8,1146.7 L546.3,1146.7 L546.8,1146.7 L547.3,1146.7 L547.8,1146.7 L548.3,1146.7 L548.8,1146.7 L549.3,1146.7 L549.8,1146.7 L550.3,1146.7 L550.8,1146.7 L551.3,1146.7 L551.8,1146.7 L552.3,1146.7 L552.8,1146.7 L553.3,1146.7 L553.8,1146.7 L554.3,1146.7 L554.8,1146.7 L555.3,1146.7 L555.8,1146.7 L556.3,1146.7 L556.8,1146.7 L557.3,1146.7 L557.8,1146.7 L558.3,1146.7 L558.8,1146.7 L559.3,1146.7 L559.8,1146.7 L560.3,1146.7 L560.8,1146.7 L561.3,1146.7 L561.8,1146.7 L562.3,1146.7 L562.8,1146.7 L563.3,1146.7 L563.8,1146.7 L564.3,1146.7 L564.8,1146.7 L565.3,1146.7 L565.8,1146.7 L566.3,1146.7 L566.8,1146.7 L567.3,1146.7 L567.8,1146.7 L568.3,1146.7 L568.8,1146.7 L569.3,1146.7 L569.8,1146.7 L570.3,1146.7 L570.8,1146.7 L571.3,1146.7 L571.8,1146.7 L572.3,1146.7 L572.8,1146.7 L573.3,1146.7 L573.8,1146.7 L574.3,1146.7 L574.8,1146.7 L575.3,1146.7 L575.8,1146.7 L576.3,1146.7 L576.8,1146.7 L577.3,1146.7 L577.8,1146.7 L578.3,1146.7 L578.8,1146.4 L579.3,1146.0 L579.8,1145.6 L580.3,1145.2 L580.8,1144.9 L581.3,1144.8 L581.8,1145.0 L582.3,1145.4 L582.8,1145.9 L583.3,1146.4 L583.8,1146.7 L584.3,1146.7 L584.8,1146.7 L585.3,1146.7 L585.8,1146.7 L586.3,1146.7 L586.8,1146.7 L587.3,1146.7 L587.8,1146.7 L588.3,1146.7 L588.8,1146.7 L589.3,1146.7 L589.8,1146.7 L590.3,1146.7 L590.8,1146.7 L591.3,1146.7 L591.8,1146.7 L592.3,1146.6 L592.8,1146.4 L593.3,1146.1 L593.8,1145.7 L594.3,1145.2 L594.8,1144.7 L595.3,1144.3 L595.8,1143.8 L596.3,1143.3 L596.8,1143.0 L597.3,1142.7 L597.8,1142.5 L598.3,1142.4 L598.8,1142.3 L599.3,1142.3 L599.8,1142.2 L600.3,1142.2 L600.8,1142.2 L601.3,1142.2 L601.8,1142.1 L602.3,1142.1 L602.8,1142.1 L603.3,1142.1 L603.8,1142.1 L604.3,1142.0 L604.8,1142.0 L605.3,1142.0 L605.8,1141.9 L606.3,1141.9 L606.8,1141.8 L607.3,1141.6 L607.8,1141.5 L608.3,1141.3 L608.8,1141.1 L609.3,1140.9 L609.8,1140.7 L610.3,1140.5 L610.8,1140.3 L611.3,1140.1 L611.8,1139.9 L612.3,1139.8 L612.8,1139.7 L613.3,1139.7 L613.8,1139.7 L614.3,1139.8 L614.8,1139.9 L615.3,1140.0 L615.8,1140.1 L616.3,1140.2 L616.8,1140.3 L617.3,1140.3 L617.8,1140.3 L618.3,1140.1 L618.8,1139.9 L619.3,1139.6 L619.8,1139.3 L620.3,1138.9 L620.8,1138.4 L621.3,1137.9 L621.8,1137.4 L622.3,1136.9 L622.8,1136.3 L623.3,1135.8 L623.8,1135.3 L624.3,1134.8 L624.8,1134.3 L625.3,1133.9 L625.8,1133.5 L626.3,1133.2 L626.8,1133.0 L627.3,1132.9 L627.8,1132.8 L628.3,1132.8 L628.8,1133.0 L629.3,1133.1 L629.8,1133.4 L630.3,1133.7 L630.8,1134.0 L631.3,1134.4 L631.8,1134.8 L632.3,1135.3 L632.8,1135.7 L633.3,1136.2 L633.8,1136.7 L634.3,1137.2 L634.8,1137.8 L635.3,1138.3 L635.8,1138.7 L636.3,1139.2 L636.8,1139.7 L637.3,1140.1 L637.8,1140.5 L638.3,1140.8 L638.8,1141.1 L639.3,1141.5 L639.8,1141.8 L640.3,1142.1 L640.8,1142.5 L641.3,1142.8 L641.8,1143.2 L642.3,1143.6 L642.8,1143.9 L643.3,1144.2 L643.8,1144.6 L644.3,1144.9 L644.8,1145.2 L645.3,1145.4 L645.8,1145.7 L646.3,1145.9 L646.8,1146.1 L647.3,1146.3 L647.8,1146.5 L648.3,1146.6 L648.8,1146.7 L649.3,1146.7 L649.8,1146.7 L650.3,1146.7 L650.8,1146.7 L651.3,1146.7 L651.8,1146.7 L652.3,1146.7 L652.8,1146.7 L653.3,1146.7 L653.8,1146.7 L654.3,1146.7 L654.8,1146.7 L655.3,1146.7 L655.8,1146.7 L656.3,1146.7 L656.8,1146.7 L657.3,1146.7 L657.8,1146.7 L658.3,1146.7 L658.8,1146.7 L659.3,1146.7 L659.8,1146.7 L660.3,1146.7 L660.8,1146.7 L661.3,1146.7 L661.8,1146.7 L662.3,1146.7 L662.8,1146.7 L663.3,1146.7 L663.8,1146.7 L664.3,1146.7 L664.8,1146.7 L665.3,1146.7 L665.8,1146.7 L666.3,1146.7 L666.8,1146.7 L667.3,1146.7 L667.8,1146.7 L668.3,1146.7 L668.8,1146.7 L669.3,1146.7 L669.8,1146.7 L670.3,1146.7 L670.8,1146.7 L671.3,1146.7 L671.8,1146.7 L672.3,1146.7 L672.8,1146.7 L673.3,1146.7 L673.8,1146.7 L674.3,1146.7 L674.8,1146.7 L675.3,1146.7 L675.8,1146.7 L676.3,1146.7 L676.8,1146.7" stroke="#4472c4" stroke-width="0.9"/>
<path d="M466.3,1109.1 L466.8,1113.5 L467.3,1117.6 L467.8,1121.5 L468.3,1125.2 L468.8,1128.6 L469.3,1131.7 L469.8,1134.6 L470.3,1137.2 L470.8,1139.5 L471.3,1141.6 L471.8,1143.3 L472.3,1144.6 L472.8,1145.7 L473.3,1146.3 L473.8,1146.7 L474.3,1146.7 L474.8,1146.7 L475.3,1146.7 L475.8,1146.7 L476.3,1146.7 L476.8,1146.7 L477.3,1146.7 L477.8,1146.7 L478.3,1146.7 L478.8,1146.7 L479.3,1146.7 L479.8,1146.7 L480.3,1146.7 L480.8,1146.7 L481.3,1146.7 L481.8,1146.7 L482.3,1146.6 L482.8,1146.1 L483.3,1144.9 L483.8,1143.2 L484.3,1140.9 L484.8,1138.3 L485.3,1135.2 L485.8,1131.8 L486.3,1128.1 L486.8,1124.2 L487.3,1120.1 L487.8,1115.9 L488.3,1111.6 L488.8,1107.3 L489.3,1103.0 L489.8,1098.8 L490.3,1094.8 L490.8,1090.9 L491.3,1087.3 L491.8,1084.0 L492.3,1081.0 L492.8,1078.4 L493.3,1076.3 L493.8,1074.6 L494.3,1073.6 L494.8,1073.1 L495.3,1073.3 L495.8,1074.1 L496.3,1075.4 L496.8,1077.2 L497.3,1079.5 L497.8,1082.2 L498.3,1085.2 L498.8,1088.6 L499.3,1092.2 L499.8,1096.0 L500.3,1100.0 L500.8,1104.1 L501.3,1108.2 L501.8,1112.4 L502.3,1116.6 L502.8,1120.6 L503.3,1124.6 L503.8,1128.4 L504.3,1131.9 L504.8,1135.2 L505.3,1138.2 L505.8,1140.8 L506.3,1143.0 L506.8,1144.7 L507.3,1145.9 L507.8,1146.6 L508.3,1146.7 L508.8,1146.7 L509.3,1146.7 L509.8,1146.7 L510.3,1146.7 L510.8,1146.7 L511.3,1146.7 L511.8,1146.7 L512.3,1146.7 L512.8,1146.7 L513.3,1146.7 L513.8,1146.7 L514.3,1146.7 L514.8,1146.7 L515.3,1146.7 L515.8,1146.7 L516.3,1146.7 L516.8,1146.7 L517.3,1146.7 L517.8,1146.4 L518.3,1145.3 L518.8,1143.4 L519.3,1140.7 L519.8,1137.5 L520.3,1133.7 L520.8,1129.5 L521.3,1124.9 L521.8,1119.9 L522.3,1114.8 L522.8,1109.5 L523.3,1104.1 L523.8,1098.8 L524.3,1093.5 L524.8,1088.5 L525.3,1083.6 L525.8,1079.2 L526.3,1075.1 L526.8,1071.5 L527.3,1068.5 L527.8,1066.2 L528.3,1064.6 L528.8,1063.8 L529.3,1063.9 L529.8,1064.8 L530.3,1066.5 L530.8,1069.0 L531.3,1072.1 L531.8,1075.7 L532.3,1079.8 L532.8,1084.3 L533.3,1089.1 L533.8,1094.1 L534.3,1099.4 L534.8,1104.7 L535.3,1110.0 L535.8,1115.2 L536.3,1120.3 L536.8,1125.2 L537.3,1129.7 L537.8,1133.9 L538.3,1137.7 L538.8,1140.8 L539.3,1143.4 L539.8,1145.3 L540.3,1146.4 L540.8,1146.7 L541.3,1146.7 L541.8,1146.7 L542.3,1146.7 L542.8,1146.7 L543.3,1146.7 L543.8,1146.7 L544.3,1146.7 L544.8,1146.7 L545.3,1146.7 L545.8,1146.7 L546.3,1146.7 L546.8,1146.7 L547.3,1146.7 L547.8,1146.7 L548.3,1146.7 L548.8,1146.7 L549.3,1146.7 L549.8,1146.7 L550.3,1146.4 L550.8,1145.9 L551.3,1145.2 L551.8,1144.3 L552.3,1143.3 L552.8,1142.2 L553.3,1140.9 L553.8,1139.5 L554.3,1138.0 L554.8,1136.5 L555.3,1135.0 L555.8,1133.4 L556.3,1131.8 L556.8,1130.3 L557.3,1128.8 L557.8,1127.3 L558.3,1126.0 L558.8,1124.8 L559.3,1123.6 L559.8,1122.7 L560.3,1121.9 L560.8,1121.3 L561.3,1120.9 L561.8,1120.7 L562.3,1120.8 L562.8,1121.4 L563.3,1122.3 L563.8,1123.5 L564.3,1125.0 L564.8,1126.7 L565.3,1128.6 L565.8,1130.6 L566.3,1132.7 L566.8,1134.7 L567.3,1136.8 L567.8,1138.8 L568.3,1140.7 L568.8,1142.4 L569.3,1143.9 L569.8,1145.1 L570.3,1146.0 L570.8,1146.6 L571.3,1146.7 L571.8,1146.7 L572.3,1146.7 L572.8,1146.7 L573.3,1146.7 L573.8,1146.7 L574.3,1146.7 L574.8,1146.7 L575.3,1146.7 L575.8,1146.7 L576.3,1146.7 L576.8,1146.7 L577.3,1146.7 L577.8,1146.7 L578.3,1146.7 L578.8,1146.7 L579.3,1146.7 L579.8,1146.7 L580.3,1146.7 L580.8,1146.7 L581.3,1146.7 L581.8,1146.7 L582.3,1146.7 L582.8,1146.7 L583.3,1146.7 L583.8,1146.7 L584.3,1146.7 L584.8,1146.6 L585.3,1146.0 L585.8,1144.9 L586.3,1143.4 L586.8,1141.6 L587.3,1139.6 L587.8,1137.5 L588.3,1135.3 L588.8,1133.1 L589.3,1131.1 L589.8,1129.2 L590.3,1127.7 L590.8,1126.5 L591.3,1125.8 L591.8,1125.6 L592.3,1126.0 L592.8,1126.9 L593.3,1128.3 L593.8,1129.9 L594.3,1131.9 L594.8,1134.0 L595.3,1136.1 L595.8,1138.3 L596.3,1140.4 L596.8,1142.4 L597.3,1144.0 L597.8,1145.4 L598.3,1146.3 L598.8,1146.7 L599.3,1146.7 L599.8,1146.7 L600.3,1146.7 L600.8,1146.7 L601.3,1146.7 L601.8,1146.7 L602.3,1146.7 L602.8,1146.7 L603.3,1146.7 L603.8,1146.7 L604.3,1146.7 L604.8,1146.7 L605.3,1146.7 L605.8,1146.7 L606.3,1146.7 L606.8,1146.7 L607.3,1146.7 L607.8,1146.7 L608.3,1146.7 L608.8,1146.7 L609.3,1146.7 L609.8,1146.7 L610.3,1146.7 L610.8,1146.7 L611.3,1146.7 L611.8,1146.7 L612.3,1146.7 L612.8,1146.7 L613.3,1146.7 L613.8,1146.7 L614.3,1146.7 L614.8,1146.7 L615.3,1146.7 L615.8,1146.7 L616.3,1146.7 L616.8,1146.7 L617.3,1146.7 L617.8,1146.7 L618.3,1146.7 L618.8,1146.7 L619.3,1146.7 L619.8,1146.7 L620.3,1146.7 L620.8,1146.7 L621.3,1146.7 L621.8,1146.7 L622.3,1146.7 L622.8,1146.7 L623.3,1146.7 L623.8,1146.7 L624.3,1146.7 L624.8,1146.7 L625.3,1146.7 L625.8,1146.7 L626.3,1146.7 L626.8,1146.7 L627.3,1146.7 L627.8,1146.7 L628.3,1146.7 L628.8,1146.7 L629.3,1146.7 L629.8,1146.7 L630.3,1146.7 L630.8,1146.7 L631.3,1146.7 L631.8,1146.7 L632.3,1146.7 L632.8,1146.7 L633.3,1146.7 L633.8,1146.7 L634.3,1146.7 L634.8,1146.7 L635.3,1146.7 L635.8,1146.7 L636.3,1146.6 L636.8,1146.4 L637.3,1146.0 L637.8,1145.5 L638.3,1144.9 L638.8,1144.2 L639.3,1143.5 L639.8,1142.8 L640.3,1142.1 L640.8,1141.4 L641.3,1140.8 L641.8,1140.3 L642.3,1139.9 L642.8,1139.7 L643.3,1139.7 L643.8,1139.7 L644.3,1139.8 L644.8,1139.8 L645.3,1139.9 L645.8,1140.0 L646.3,1140.2 L646.8,1140.3 L647.3,1140.5 L647.8,1140.6 L648.3,1140.8 L648.8,1141.0 L649.3,1141.2 L649.8,1141.5 L650.3,1141.7 L650.8,1141.9 L651.3,1142.1 L651.8,1142.4 L652.3,1142.6 L652.8,1142.9 L653.3,1143.1 L653.8,1143.4 L654.3,1143.6 L654.8,1143.8 L655.3,1144.1 L655.8,1144.3 L656.3,1144.5 L656.8,1144.7 L657.3,1144.9 L657.8,1145.1 L658.3,1145.3 L658.8,1145.4 L659.3,1145.6 L659.8,1145.7 L660.3,1145.8 L660.8,1145.9 L661.3,1145.9 L661.8,1146.0 L662.3,1146.0 L662.8,1146.0 L663.3,1145.9 L663.8,1145.8 L664.3,1145.7 L664.8,1145.5 L665.3,1145.2 L665.8,1145.0 L666.3,1144.6 L666.8,1144.3 L667.3,1144.0 L667.8,1143.6 L668.3,1143.2 L668.8,1142.7 L669.3,1142.3 L669.8,1141.9 L670.3,1141.4 L670.8,1140.9 L671.3,1140.5 L671.8,1140.0 L672.3,1139.5 L672.8,1139.0 L673.3,1138.6 L673.8,1138.1 L674.3,1137.7 L674.8,1137.2 L675.3,1136.8 L675.8,1136.3 L676.3,1135.7 L676.8,1135.2" stroke="#3aaa3f"/>
<path d="M466.3,1129.2 L466.8,1125.4 L467.3,1121.5 L467.8,1117.3 L468.3,1113.0 L468.8,1108.6 L469.3,1104.0 L469.8,1099.5 L470.3,1095.0 L470.8,1090.4 L471.3,1086.0 L471.8,1081.7 L472.3,1077.5 L472.8,1073.5 L473.3,1069.7 L473.8,1066.1 L474.3,1062.9 L474.8,1060.0 L475.3,1057.4 L475.8,1055.2 L476.3,1053.5 L476.8,1052.3 L477.3,1051.6 L477.8,1051.4 L478.3,1051.9 L478.8,1053.1 L479.3,1054.8 L479.8,1057.2 L480.3,1060.0 L480.8,1063.3 L481.3,1067.1 L481.8,1071.1 L482.3,1075.5 L482.8,1080.1 L483.3,1084.9 L483.8,1089.9 L484.3,1095.0 L484.8,1100.1 L485.3,1105.2 L485.8,1110.2 L486.3,1115.1 L486.8,1119.8 L487.3,1124.4 L487.8,1128.6 L488.3,1132.6 L488.8,1136.1 L489.3,1139.3 L489.8,1141.9 L490.3,1144.0 L490.8,1145.6 L491.3,1146.5 L491.8,1146.7 L492.3,1146.7 L492.8,1146.7 L493.3,1146.7 L493.8,1146.7 L494.3,1146.7 L494.8,1146.7 L495.3,1146.7 L495.8,1146.7 L496.3,1146.7 L496.8,1146.7 L497.3,1146.7 L497.8,1146.7 L498.3,1146.7 L498.8,1146.2 L499.3,1145.2 L499.8,1143.7 L500.3,1141.7 L500.8,1139.4 L501.3,1136.7 L501.8,1133.7 L502.3,1130.4 L502.8,1126.9 L503.3,1123.2 L503.8,1119.2 L504.3,1115.2 L504.8,1111.1 L505.3,1106.9 L505.8,1102.7 L506.3,1098.5 L506.8,1094.4 L507.3,1090.4 L507.8,1086.5 L508.3,1082.8 L508.8,1079.3 L509.3,1076.0 L509.8,1073.1 L510.3,1070.5 L510.8,1068.2 L511.3,1066.4 L511.8,1065.0 L512.3,1064.1 L512.8,1063.7 L513.3,1064.0 L513.8,1065.4 L514.3,1067.7 L514.8,1070.7 L515.3,1074.5 L515.8,1078.9 L516.3,1083.8 L516.8,1089.1 L517.3,1094.7 L517.8,1100.5 L518.3,1106.4 L518.8,1112.2 L519.3,1117.9 L519.8,1123.4 L520.3,1128.6 L520.8,1133.3 L521.3,1137.5 L521.8,1141.0 L522.3,1143.7 L522.8,1145.7 L523.3,1146.6 L523.8,1146.7 L524.3,1146.7 L524.8,1146.7 L525.3,1146.7 L525.8,1146.7 L526.3,1146.7 L526.8,1146.7 L527.3,1146.7 L527.8,1146.7 L528.3,1146.7 L528.8,1146.7 L529.3,1146.7 L529.8,1146.7 L530.3,1146.7 L530.8,1146.7 L531.3,1146.7 L531.8,1146.7 L532.3,1146.7 L532.8,1146.7 L533.3,1146.7 L533.8,1146.7 L534.3,1146.7 L534.8,1146.7 L535.3,1146.5 L535.8,1145.3 L536.3,1143.1 L536.8,1140.1 L537.3,1136.3 L537.8,1131.8 L538.3,1126.8 L538.8,1121.4 L539.3,1115.6 L539.8,1109.5 L540.3,1103.4 L540.8,1097.2 L541.3,1091.1 L541.8,1085.2 L542.3,1079.6 L542.8,1074.4 L543.3,1069.7 L543.8,1065.6 L544.3,1062.3 L544.8,1059.8 L545.3,1058.2 L545.8,1057.6 L546.3,1058.2 L546.8,1060.0 L547.3,1062.9 L547.8,1066.7 L548.3,1071.3 L548.8,1076.5 L549.3,1082.3 L549.8,1088.5 L550.3,1094.9 L550.8,1101.5 L551.3,1108.1 L551.8,1114.6 L552.3,1120.8 L552.8,1126.7 L553.3,1132.0 L553.8,1136.7 L554.3,1140.7 L554.8,1143.8 L555.3,1145.8 L555.8,1146.7 L556.3,1146.7 L556.8,1146.7 L557.3,1146.7 L557.8,1146.5 L558.3,1145.3 L558.8,1143.1 L559.3,1140.2 L559.8,1136.6 L560.3,1132.6 L560.8,1128.2 L561.3,1123.7 L561.8,1119.2 L562.3,1114.8 L562.8,1110.8 L563.3,1107.2 L563.8,1104.3 L564.3,1102.1 L564.8,1100.9 L565.3,1100.8 L565.8,1101.5 L566.3,1103.0 L566.8,1105.1 L567.3,1107.5 L567.8,1110.3 L568.3,1113.3 L568.8,1116.2 L569.3,1119.0 L569.8,1121.6 L570.3,1123.7 L570.8,1125.3 L571.3,1126.2 L571.8,1126.3 L572.3,1125.5 L572.8,1123.7 L573.3,1121.3 L573.8,1118.2 L574.3,1114.5 L574.8,1110.5 L575.3,1106.2 L575.8,1101.8 L576.3,1097.2 L576.8,1092.8 L577.3,1088.5 L577.8,1084.5 L578.3,1080.8 L578.8,1077.7 L579.3,1075.3 L579.8,1073.5 L580.3,1072.7 L580.8,1072.8 L581.3,1074.2 L581.8,1076.6 L582.3,1079.9 L582.8,1084.1 L583.3,1088.8 L583.8,1094.0 L584.3,1099.6 L584.8,1105.3 L585.3,1111.1 L585.8,1116.7 L586.3,1122.1 L586.8,1127.0 L587.3,1131.4 L587.8,1135.1 L588.3,1137.9 L588.8,1139.7 L589.3,1140.3 L589.8,1139.8 L590.3,1138.3 L590.8,1136.0 L591.3,1133.0 L591.8,1129.5 L592.3,1125.6 L592.8,1121.4 L593.3,1117.0 L593.8,1112.7 L594.3,1108.5 L594.8,1104.6 L595.3,1101.1 L595.8,1098.1 L596.3,1095.8 L596.8,1094.3 L597.3,1093.8 L597.8,1094.0 L598.3,1094.5 L598.8,1095.3 L599.3,1096.3 L599.8,1097.4 L600.3,1098.7 L600.8,1100.0 L601.3,1101.3 L601.8,1102.6 L602.3,1103.7 L602.8,1104.7 L603.3,1105.4 L603.8,1105.9 L604.3,1106.0 L604.8,1105.7 L605.3,1105.1 L605.8,1104.3 L606.3,1103.1 L606.8,1101.8 L607.3,1100.3 L607.8,1098.6 L608.3,1096.8 L608.8,1095.0 L609.3,1093.2 L609.8,1091.4 L610.3,1089.7 L610.8,1088.1 L611.3,1086.7 L611.8,1085.4 L612.3,1084.4 L612.8,1083.6 L613.3,1083.1 L613.8,1083.0 L614.3,1083.4 L614.8,1084.3 L615.3,1085.7 L615.8,1087.4 L616.3,1089.5 L616.8,1091.8 L617.3,1094.4 L617.8,1097.0 L618.3,1099.8 L618.8,1102.5 L619.3,1105.2 L619.8,1107.8 L620.3,1110.1 L620.8,1112.3 L621.3,1114.1 L621.8,1115.5 L622.3,1116.5 L622.8,1117.1 L623.3,1117.0 L623.8,1116.2 L624.3,1114.9 L624.8,1113.0 L625.3,1110.7 L625.8,1108.1 L626.3,1105.1 L626.8,1102.0 L627.3,1098.7 L627.8,1095.4 L628.3,1092.1 L628.8,1088.9 L629.3,1085.9 L629.8,1083.2 L630.3,1080.8 L630.8,1078.8 L631.3,1077.4 L631.8,1076.5 L632.3,1076.3 L632.8,1077.1 L633.3,1078.8 L633.8,1081.3 L634.3,1084.4 L634.8,1088.1 L635.3,1092.1 L635.8,1096.3 L636.3,1100.7 L636.8,1104.9 L637.3,1108.9 L637.8,1112.6 L638.3,1115.7 L638.8,1118.2 L639.3,1119.9 L639.8,1120.7 L640.3,1120.4 L640.8,1119.3 L641.3,1117.3 L641.8,1114.8 L642.3,1111.7 L642.8,1108.1 L643.3,1104.3 L643.8,1100.2 L644.3,1096.0 L644.8,1091.8 L645.3,1087.7 L645.8,1083.9 L646.3,1080.3 L646.8,1077.2 L647.3,1074.7 L647.8,1072.7 L648.3,1071.6 L648.8,1071.3 L649.3,1071.9 L649.8,1073.4 L650.3,1075.5 L650.8,1078.2 L651.3,1081.4 L651.8,1084.9 L652.3,1088.7 L652.8,1092.7 L653.3,1096.6 L653.8,1100.5 L654.3,1104.1 L654.8,1107.5 L655.3,1110.4 L655.8,1112.7 L656.3,1114.5 L656.8,1115.4 L657.3,1115.5 L657.8,1114.6 L658.3,1112.8 L658.8,1110.2 L659.3,1107.0 L659.8,1103.2 L660.3,1099.1 L660.8,1094.7 L661.3,1090.1 L661.8,1085.5 L662.3,1081.1 L662.8,1076.9 L663.3,1073.0 L663.8,1069.7 L664.3,1067.0 L664.8,1065.0 L665.3,1063.9 L665.8,1063.8 L666.3,1064.5 L666.8,1065.9 L667.3,1067.9 L667.8,1070.5 L668.3,1073.6 L668.8,1077.1 L669.3,1080.9 L669.8,1085.0 L670.3,1089.4 L670.8,1093.8 L671.3,1098.3 L671.8,1102.8 L672.3,1107.2 L672.8,1111.5 L673.3,1115.5 L673.8,1119.2 L674.3,1122.6 L674.8,1125.6 L675.3,1128.5 L675.8,1131.4 L676.3,1134.2 L676.8,1136.9" stroke="#e8213f"/>
</g>
<rect x="468.3" y="1029.6" width="206.6" height="117.0" fill="none" stroke="#404040" stroke-width="1.25"/>
<rect x="475.70" y="1035.10" width="3.8" height="5.3" fill="#fff" stroke="#d0d0d0" stroke-width="0.5"/>
<rect x="475.70" y="1037.75" width="3.8" height="2.65" fill="#e92743"/>
<text x="477.60" y="1049.20" font-size="7.8" font-weight="bold" text-anchor="middle" fill="#e92743" style="font-family:'Liberation Mono',monospace">T</text>
<rect x="492.77" y="1035.10" width="3.8" height="5.3" fill="#fff" stroke="#d0d0d0" stroke-width="0.5"/>
<rect x="492.77" y="1037.75" width="3.8" height="2.65" fill="#3cac43"/>
<text x="494.67" y="1049.20" font-size="7.8" font-weight="bold" text-anchor="middle" fill="#3cac43" style="font-family:'Liberation Mono',monospace">A</text>
<rect x="509.84" y="1035.10" width="3.8" height="5.3" fill="#fff" stroke="#d0d0d0" stroke-width="0.5"/>
<rect x="509.84" y="1037.75" width="3.8" height="2.65" fill="#e92743"/>
<text x="511.74" y="1049.20" font-size="7.8" font-weight="bold" text-anchor="middle" fill="#e92743" style="font-family:'Liberation Mono',monospace">T</text>
<rect x="526.91" y="1035.10" width="3.8" height="5.3" fill="#fff" stroke="#d0d0d0" stroke-width="0.5"/>
<rect x="526.91" y="1036.96" width="3.8" height="3.44" fill="#3cac43"/>
<text x="528.81" y="1049.20" font-size="7.8" font-weight="bold" text-anchor="middle" fill="#3cac43" style="font-family:'Liberation Mono',monospace">A</text>
<rect x="543.98" y="1035.10" width="3.8" height="5.3" fill="#fff" stroke="#d0d0d0" stroke-width="0.5"/>
<rect x="543.98" y="1037.75" width="3.8" height="2.65" fill="#e92743"/>
<text x="545.88" y="1049.20" font-size="7.8" font-weight="bold" text-anchor="middle" fill="#e92743" style="font-family:'Liberation Mono',monospace">T</text>
<rect x="561.05" y="1035.10" width="3.8" height="5.3" fill="#fff" stroke="#d0d0d0" stroke-width="0.5"/>
<text x="562.95" y="1049.20" font-size="7.8" font-weight="bold" text-anchor="middle" fill="#c74fba" style="font-family:'Liberation Mono',monospace">N</text>
<rect x="578.12" y="1035.10" width="3.8" height="5.3" fill="#fff" stroke="#d0d0d0" stroke-width="0.5"/>
<rect x="578.12" y="1039.45" width="3.8" height="0.95" fill="#e92743"/>
<text x="580.02" y="1049.20" font-size="7.8" font-weight="bold" text-anchor="middle" fill="#e92743" style="font-family:'Liberation Mono',monospace">T</text>
<rect x="595.19" y="1035.10" width="3.8" height="5.3" fill="#fff" stroke="#d0d0d0" stroke-width="0.5"/>
<rect x="595.19" y="1039.76" width="3.8" height="0.64" fill="#c74fba"/>
<text x="597.09" y="1049.20" font-size="7.8" font-weight="bold" text-anchor="middle" fill="#c74fba" style="font-family:'Liberation Mono',monospace">N</text>
<rect x="612.26" y="1035.10" width="3.8" height="5.3" fill="#fff" stroke="#d0d0d0" stroke-width="0.5"/>
<rect x="612.26" y="1039.45" width="3.8" height="0.95" fill="#e92743"/>
<text x="614.16" y="1049.20" font-size="7.8" font-weight="bold" text-anchor="middle" fill="#e92743" style="font-family:'Liberation Mono',monospace">T</text>
<rect x="629.33" y="1035.10" width="3.8" height="5.3" fill="#fff" stroke="#d0d0d0" stroke-width="0.5"/>
<rect x="629.33" y="1038.55" width="3.8" height="1.85" fill="#e92743"/>
<text x="631.23" y="1049.20" font-size="7.8" font-weight="bold" text-anchor="middle" fill="#e92743" style="font-family:'Liberation Mono',monospace">T</text>
<rect x="646.40" y="1035.10" width="3.8" height="5.3" fill="#fff" stroke="#d0d0d0" stroke-width="0.5"/>
<rect x="646.40" y="1037.49" width="3.8" height="2.92" fill="#e92743"/>
<text x="648.30" y="1049.20" font-size="7.8" font-weight="bold" text-anchor="middle" fill="#e92743" style="font-family:'Liberation Mono',monospace">T</text>
<rect x="663.47" y="1035.10" width="3.8" height="5.3" fill="#fff" stroke="#d0d0d0" stroke-width="0.5"/>
<rect x="663.47" y="1037.49" width="3.8" height="2.92" fill="#e92743"/>
<text x="665.37" y="1049.20" font-size="7.8" font-weight="bold" text-anchor="middle" fill="#e92743" style="font-family:'Liberation Mono',monospace">T</text>
<text x="562.40" y="1064.70" font-size="14.5" text-anchor="middle" fill="#333">*</text>
<text x="597.50" y="1064.70" font-size="14.5" text-anchor="middle" fill="#333">*</text>
<text x="36.30" y="1166.50" font-size="12.0" fill="#1a1a1a" textLength="73.60" lengthAdjust="spacingAndGlyphs">MassARRAY:</text>
<text x="119.50" y="1166.50" font-size="12.0" fill="#1a1a1a" textLength="97.00" lengthAdjust="spacingAndGlyphs">A (45%) / T (55%)</text>
<text x="44.80" y="1183.30" font-size="12.0" fill="#1a1a1a" textLength="92.70" lengthAdjust="spacingAndGlyphs">rs59121562 (T/A)</text>
<text x="144.80" y="1183.30" font-size="12.0" fill="#1a1a1a" textLength="93.40" lengthAdjust="spacingAndGlyphs">rs80047492 (T/A)</text>
<text x="258.50" y="1166.50" font-size="12.0" fill="#1a1a1a" textLength="97.30" lengthAdjust="spacingAndGlyphs">A (20%) / T (80%)</text>
<text x="270.90" y="1183.30" font-size="12.0" fill="#1a1a1a" textLength="93.30" lengthAdjust="spacingAndGlyphs">rs59121562 (T/A)</text>
<text x="376.00" y="1183.30" font-size="12.0" fill="#1a1a1a" textLength="93.30" lengthAdjust="spacingAndGlyphs">rs80047492 (T/A)</text>
<text x="471.80" y="1166.50" font-size="12.0" fill="#1a1a1a" textLength="96.70" lengthAdjust="spacingAndGlyphs">A (27%) / T (73%)</text>
<text x="489.30" y="1183.30" font-size="12.0" fill="#1a1a1a" textLength="93.30" lengthAdjust="spacingAndGlyphs">rs59121562 (T/A)</text>
<text x="591.00" y="1183.30" font-size="12.0" fill="#1a1a1a" textLength="93.00" lengthAdjust="spacingAndGlyphs">rs80047492 (T/A)</text>
<text x="248.40" y="1202.00" font-size="10.6" fill="#1a1a1a" textLength="36.90" lengthAdjust="spacingAndGlyphs"><tspan font-style="italic">Bgl</tspan>II 27</text>
<line x1="287" y1="1198.5" x2="299.8" y2="1198.5" stroke="#2a2627" stroke-width="1.1" stroke-dasharray="1 1.5"/>
<line x1="299.8" y1="1198.5" x2="408.9" y2="1198.5" stroke="#2a2627" stroke-width="1.1"/>
<line x1="408.9" y1="1198.5" x2="423" y2="1198.5" stroke="#2a2627" stroke-width="1.1" stroke-dasharray="1 1.5"/>
<text x="426.40" y="1202.00" font-size="10.6" fill="#1a1a1a" textLength="35.90" lengthAdjust="spacingAndGlyphs"><tspan font-style="italic">Bgl</tspan>II 25</text>
<path d="M355.6,1195.6 V1201.4 M355.8,1187.7 L365.6,1198.5 M377.6,1187.7 L367.8,1198.5" fill="none" stroke="#2a2627" stroke-width="1.1"/>
<text x="301.70" y="1210.10" font-size="12.0" fill="#1a1a1a" textLength="21.60" lengthAdjust="spacingAndGlyphs">26R</text>
<path d="M324.1,1201.6 V1211.2 L334.8,1206.4 Z" fill="#2a2627"/>
<text x="347.30" y="1210.10" font-size="11.4" fill="#1a1a1a" textLength="21.60" lengthAdjust="spacingAndGlyphs"><tspan font-style="italic">Bgl</tspan>II</text>
<path d="M386.0,1201.6 V1211.2 L374.7,1206.4 Z" fill="#2a2627"/>
<text x="388.10" y="1210.10" font-size="12.0" fill="#1a1a1a" textLength="21.40" lengthAdjust="spacingAndGlyphs">24R</text>
<text x="344.00" y="1222.60" font-size="10.6" fill="#1a1a1a" textLength="24.60" lengthAdjust="spacingAndGlyphs">26-24</text>
<text x="474.50" y="1202.00" font-size="10.6" fill="#1a1a1a" textLength="30.20" lengthAdjust="spacingAndGlyphs"><tspan font-style="italic">Bgl</tspan>II 7</text>
<line x1="506" y1="1198.5" x2="515.4" y2="1198.5" stroke="#2a2627" stroke-width="1.1" stroke-dasharray="1 1.5"/>
<line x1="515.4" y1="1198.5" x2="623.9" y2="1198.5" stroke="#2a2627" stroke-width="1.1"/>
<line x1="623.9" y1="1198.5" x2="639" y2="1198.5" stroke="#2a2627" stroke-width="1.1" stroke-dasharray="1 1.5"/>
<text x="642.40" y="1202.00" font-size="10.6" fill="#1a1a1a" textLength="35.90" lengthAdjust="spacingAndGlyphs"><tspan font-style="italic">Bgl</tspan>II 25</text>
<path d="M570.3,1195.4 V1201.6 M570.3,1187.4 L579.7,1198.5 M591.9,1187.4 L582.2,1198.5" fill="none" stroke="#2a2627" stroke-width="1.1"/>
<text x="529.70" y="1210.10" font-size="12.0" fill="#1a1a1a" textLength="12.60" lengthAdjust="spacingAndGlyphs">8F</text>
<path d="M545.4,1201.6 V1211.2 L556.1,1206.4 Z" fill="#2a2627"/>
<text x="561.20" y="1210.10" font-size="11.4" fill="#1a1a1a" textLength="22.00" lengthAdjust="spacingAndGlyphs"><tspan font-style="italic">Bgl</tspan>II</text>
<path d="M600.3,1201.6 V1211.2 L589.1,1206.4 Z" fill="#2a2627"/>
<text x="603.10" y="1210.10" font-size="12.0" fill="#1a1a1a" textLength="20.40" lengthAdjust="spacingAndGlyphs">24R</text>
<text x="561.20" y="1222.60" font-size="10.6" fill="#1a1a1a" textLength="19.60" lengthAdjust="spacingAndGlyphs">8-24</text>
</svg>
</body></html>
